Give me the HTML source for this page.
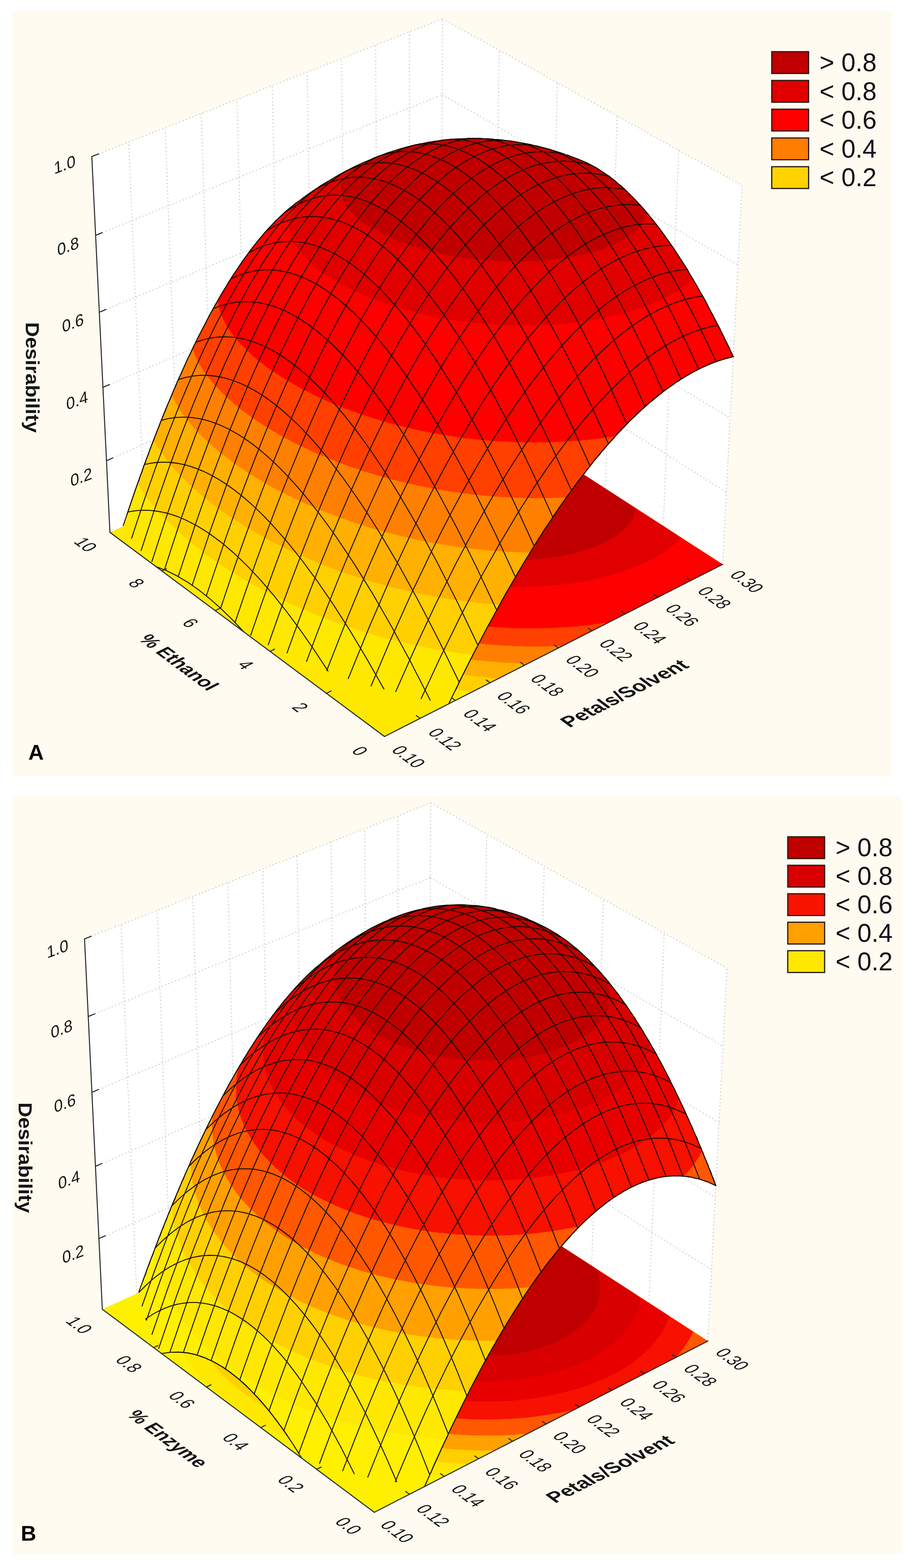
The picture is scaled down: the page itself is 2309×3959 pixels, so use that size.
<!DOCTYPE html>
<html><head><meta charset="utf-8"><title>Desirability surfaces</title><style>html,body{margin:0;padding:0;background:#fff}svg{display:block}</style></head>
<body>
<svg xmlns="http://www.w3.org/2000/svg" width="2309" height="3959" viewBox="0 0 2309 3959" font-family="'Liberation Sans', sans-serif">
<rect x="31" y="28" width="2220" height="1932" fill="#FFFBF0"/>
<polygon fill="#fff" points="277.4,1344.1 231.7,395.3 1117.1,47.3 1872.7,468.4 1823.7,1424.9 1112.3,964.8"/>
<g stroke="#cdcdcd" stroke-width="2.8" stroke-dasharray="2.8 6.3" fill="none">
<line x1="365.1" y1="1304.3" x2="324.9" y2="358.7" />
<line x1="451.7" y1="1264.9" x2="417.0" y2="322.5" />
<line x1="537.5" y1="1226.0" x2="508.1" y2="286.7" />
<line x1="622.3" y1="1187.4" x2="598.1" y2="251.3" />
<line x1="706.2" y1="1149.3" x2="687.1" y2="216.3" />
<line x1="789.1" y1="1111.6" x2="775.1" y2="181.7" />
<line x1="871.2" y1="1074.3" x2="862.0" y2="147.5" />
<line x1="952.4" y1="1037.4" x2="948.0" y2="113.7" />
<line x1="1032.8" y1="1000.9" x2="1033.0" y2="80.3" />
<line x1="1112.3" y1="964.8" x2="1117.1" y2="47.3" />
<line x1="1823.7" y1="1424.9" x2="1872.7" y2="468.4" />
<line x1="1673.6" y1="1327.8" x2="1712.8" y2="379.3" />
<line x1="1527.6" y1="1233.4" x2="1557.5" y2="292.7" />
<line x1="1385.5" y1="1141.5" x2="1406.6" y2="208.6" />
<line x1="1247.1" y1="1052.0" x2="1259.8" y2="126.8" />
<line x1="268.7" y1="1163.2" x2="1113.2" y2="789.3" />
<line x1="1113.2" y1="789.3" x2="1833.0" y2="1242.6" />
<line x1="259.7" y1="978.0" x2="1114.1" y2="610.0" />
<line x1="1114.1" y1="610.0" x2="1842.6" y2="1055.9" />
<line x1="250.6" y1="788.4" x2="1115.1" y2="426.6" />
<line x1="1115.1" y1="426.6" x2="1852.4" y2="864.8" />
<line x1="241.2" y1="594.2" x2="1116.1" y2="239.1" />
<line x1="1116.1" y1="239.1" x2="1862.4" y2="669.0" />
<line x1="231.7" y1="395.3" x2="1117.1" y2="47.3" />
<line x1="1117.1" y1="47.3" x2="1872.7" y2="468.4" />
</g>
<polygon fill="#FFE800" points="970.3,1859.6 277.4,1344.1 1112.3,964.8 1823.7,1424.9"/>
<path fill="#FFD000" d="M351.2,1310.8L358.2,1322.8L373.2,1344.8L387.8,1363.8L403.8,1382.8L418.8,1399.2L446.2,1426.8L479.2,1456.2L523.2,1491.2L550.2,1510.8L582.2,1532.2L633.8,1563.8L686.8,1592.8L745.2,1621.2L804.2,1646.8L864.8,1669.8L928.2,1690.8L999.8,1710.8L1057.8,1724.2L1114.8,1735.2L1148.8,1740.8L1189.2,1746.2L1192.8,1746.2L1823.2,1424.8L1112.8,965.2L1111.2,965.2Z"/>
<path fill="#FFB000" d="M395.2,1290.8L397.8,1296.2L406.2,1310.8L418.8,1329.8L429.8,1344.8L444.8,1363.2L460.2,1380.8L483.8,1404.8L516.2,1434.2L541.2,1454.8L564.2,1472.2L608.2,1502.8L661.2,1535.2L716.8,1565.2L776.8,1593.8L829.2,1615.8L894.8,1639.8L955.2,1658.8L1019.2,1675.8L1054.2,1683.8L1091.2,1691.2L1157.2,1702.2L1223.8,1710.2L1258.2,1712.8L1823.2,1424.8L1112.8,965.2L1111.2,965.2Z"/>
<path fill="#FF8000" d="M443.8,1268.8L444.2,1271.2L457.8,1297.2L470.8,1317.8L482.8,1334.2L495.2,1349.8L510.2,1366.8L529.2,1386.2L545.8,1401.8L562.2,1416.2L583.8,1433.8L626.8,1465.2L653.2,1482.8L682.8,1500.8L727.8,1525.8L782.8,1552.8L831.2,1573.8L893.2,1597.2L951.8,1616.2L1005.8,1631.2L1068.2,1645.8L1136.8,1658.2L1195.2,1666.2L1234.8,1670.2L1267.2,1672.2L1267.8,1672.8L1306.2,1674.2L1306.8,1674.8L1331.8,1675.2L1823.2,1424.8L1112.8,965.2L1111.2,965.2Z"/>
<path fill="#FF4000" d="M498.2,1244.2L501.8,1255.2L510.8,1275.8L519.8,1292.2L528.2,1305.8L539.2,1321.2L550.8,1335.8L565.2,1352.2L581.2,1368.8L610.2,1395.2L631.8,1412.8L653.8,1429.2L697.8,1458.8L736.8,1481.8L788.8,1508.8L830.2,1527.8L878.2,1547.2L933.2,1566.8L987.8,1583.2L1051.2,1599.2L1107.8,1610.8L1164.2,1619.8L1230.8,1627.2L1263.2,1629.2L1263.8,1629.8L1271.2,1629.8L1271.8,1630.2L1291.2,1630.8L1291.8,1631.2L1322.2,1631.8L1322.8,1632.2L1378.8,1632.2L1379.2,1631.8L1419.2,1630.8L1823.2,1424.8L1112.8,965.2L1111.2,965.2Z"/>
<path fill="#FF0000" d="M562.8,1214.8L564.8,1227.8L568.8,1243.2L577.2,1265.2L590.8,1290.2L602.2,1307.2L617.2,1326.2L629.8,1340.2L647.8,1358.2L670.2,1378.2L701.8,1402.8L721.8,1416.8L744.2,1431.2L784.8,1454.8L831.2,1478.2L882.8,1500.8L927.8,1517.8L973.2,1532.8L1022.8,1546.8L1075.8,1559.2L1140.8,1571.2L1183.2,1577.2L1231.2,1582.2L1265.8,1584.2L1266.2,1584.8L1274.8,1584.8L1275.2,1585.2L1299.2,1585.8L1299.8,1586.2L1320.8,1586.2L1321.2,1586.8L1379.8,1586.2L1380.2,1585.8L1393.2,1585.8L1393.8,1585.2L1403.8,1585.2L1404.2,1584.8L1435.2,1583.2L1486.2,1578.2L1535.8,1571.2L1823.2,1424.8L1144.2,985.8L1106.8,985.2L1106.2,984.8L1067.2,985.2Z"/>
<path fill="#E00000" d="M742.8,1198.2L741.8,1206.2L741.8,1220.2L743.2,1231.2L745.2,1239.8L752.8,1259.8L759.8,1272.8L767.2,1284.2L783.8,1304.8L803.2,1324.2L824.8,1342.2L841.8,1354.8L858.2,1365.8L888.8,1383.8L923.2,1401.2L956.2,1415.8L990.2,1428.8L1028.2,1441.2L1067.8,1452.2L1104.2,1460.8L1152.8,1469.8L1192.2,1475.2L1226.8,1478.8L1239.2,1479.2L1239.8,1479.8L1264.8,1480.8L1265.2,1481.2L1277.2,1481.2L1277.8,1481.8L1320.8,1482.2L1321.2,1481.8L1356.2,1481.2L1356.8,1480.8L1365.8,1480.8L1366.2,1480.2L1373.8,1480.2L1374.2,1479.8L1399.2,1478.2L1434.8,1474.2L1483.8,1466.2L1533.8,1454.8L1561.2,1446.8L1594.2,1435.2L1626.2,1421.8L1656.2,1406.2L1682.8,1389.2L1702.8,1373.2L1718.2,1357.2L1706.8,1349.2L1263.8,1062.8L1258.2,1059.8L1229.2,1057.8L1228.8,1057.2L1222.2,1057.2L1221.8,1056.8L1206.2,1056.2L1205.8,1055.8L1172.8,1054.8L1172.2,1054.2L1152.8,1054.2L1152.2,1053.8L1107.8,1053.8L1107.2,1054.2L1088.2,1054.2L1087.8,1054.8L1065.8,1055.2L1065.2,1055.8L1049.2,1056.2L1048.8,1056.8L1014.8,1059.2L971.8,1064.8L933.2,1071.8L901.8,1079.2L871.8,1088.2L838.2,1101.2L810.8,1115.2L790.2,1128.8L779.2,1137.8L766.8,1150.2L759.2,1159.8L753.8,1168.2L748.8,1178.2L745.2,1187.8Z"/>
<path fill="#C00000" d="M868.2,1214.8L868.2,1220.8L867.8,1221.2L868.2,1230.8L871.2,1244.2L874.2,1252.2L879.8,1263.2L888.8,1276.8L900.2,1290.2L920.2,1308.8L936.8,1321.2L965.2,1339.2L995.2,1354.8L1016.8,1364.2L1046.8,1375.8L1081.2,1386.8L1113.8,1395.2L1146.8,1402.2L1173.2,1406.8L1213.2,1411.8L1236.8,1413.2L1237.2,1413.8L1268.2,1414.8L1268.8,1415.2L1309.8,1415.2L1310.2,1414.8L1323.2,1414.8L1323.8,1414.2L1332.8,1414.2L1333.2,1413.8L1353.2,1412.8L1384.8,1409.2L1415.8,1404.2L1437.2,1399.8L1475.8,1389.2L1499.8,1380.8L1520.8,1371.8L1548.2,1356.8L1565.2,1344.8L1571.8,1339.2L1583.2,1327.8L1593.2,1314.2L1599.2,1302.2L1602.2,1292.8L1603.8,1282.8L1359.2,1124.8L1335.2,1119.8L1302.8,1114.2L1244.8,1107.2L1219.8,1105.8L1219.2,1105.2L1211.8,1105.2L1211.2,1104.8L1190.2,1104.2L1189.8,1103.8L1170.8,1103.8L1170.2,1103.2L1142.2,1103.2L1141.8,1103.8L1123.8,1103.8L1123.2,1104.2L1103.8,1104.8L1103.2,1105.2L1096.2,1105.2L1095.8,1105.8L1073.2,1107.2L1038.8,1111.8L1011.8,1116.8L983.2,1123.8L959.8,1131.2L938.8,1139.8L920.2,1149.2L901.8,1161.8L886.8,1175.8L878.8,1186.2L871.8,1200.2Z"/>
<path fill="#FFE800" d="M1259.8,352.2L1247.2,351.8L1233.8,350.2L1210.2,349.8L1209.8,349.2L1178.2,349.2L1177.8,349.8L1164.8,349.8L1164.2,350.2L1154.8,350.2L1140.8,351.8L1134.2,351.8L1125.2,353.2L1107.8,354.8L1060.8,362.8L1057.2,364.2L1049.8,365.2L1033.8,369.8L1027.8,370.8L993.2,380.8L960.2,392.2L915.8,410.8L880.8,427.8L853.8,442.2L807.2,470.2L778.2,489.8L775.8,492.2L764.2,499.8L750.2,510.8L744.8,514.2L725.2,530.8L723.2,531.8L692.8,560.8L667.2,588.2L663.8,593.2L658.8,598.2L647.2,612.2L628.2,636.8L626.8,639.8L615.2,654.8L609.8,663.8L603.8,671.2L601.2,676.2L598.2,679.8L577.2,711.8L561.8,738.8L554.8,749.2L551.8,755.8L542.2,771.2L537.8,780.8L532.2,789.2L508.8,834.2L488.2,875.2L481.2,891.2L474.2,904.2L456.2,945.2L452.2,952.8L450.8,957.8L446.8,965.2L444.2,972.8L435.8,990.8L430.8,1004.8L427.8,1010.2L425.2,1017.8L422.2,1023.2L419.8,1030.8L405.8,1063.8L400.8,1078.2L397.8,1084.2L395.2,1092.2L390.8,1102.2L387.2,1113.2L378.8,1133.2L373.8,1148.8L369.2,1159.2L365.8,1170.8L362.8,1176.8L357.8,1192.8L354.8,1199.2L349.8,1215.2L346.8,1221.8L341.8,1237.8L339.2,1243.2L331.2,1268.8L328.2,1275.2L323.2,1292.2L320.2,1298.8L312.8,1323.8L309.8,1329.8L306.8,1331.2L315.8,1337.2L312.8,1338.8L318.8,1343.2L318.2,1344.2L316.2,1344.8L318.8,1347.2L324.8,1351.2L321.8,1352.8L325.2,1354.8L330.2,1359.2L327.8,1360.2L330.2,1362.8L336.2,1366.8L333.2,1368.2L342.2,1374.8L339.2,1376.2L344.8,1379.8L349.8,1384.2L347.2,1385.2L349.8,1387.8L357.8,1393.2L357.2,1394.2L355.2,1394.8L357.8,1397.2L362.8,1400.2L368.2,1404.8L365.2,1406.2L378.2,1415.8L375.8,1417.2L384.8,1424.2L386.2,1424.8L391.2,1429.2L399.2,1432.8L402.2,1433.2L405.8,1435.2L411.2,1436.8L419.2,1440.8L421.8,1441.2L451.2,1456.2L452.8,1457.8L460.8,1461.8L467.8,1466.8L471.2,1468.2L489.2,1480.2L495.2,1485.2L498.2,1486.8L525.8,1508.2L538.8,1520.2L553.2,1532.2L589.8,1567.8L617.2,1597.2L620.8,1599.2L623.8,1602.2L625.2,1602.8L634.8,1610.2L637.8,1608.8L649.2,1616.8L651.8,1619.2L654.8,1617.8L656.8,1618.8L668.8,1628.2L671.8,1626.8L673.8,1627.8L676.8,1630.8L683.2,1634.8L685.8,1637.2L688.8,1635.8L700.8,1644.2L703.8,1642.8L712.8,1649.8L715.8,1648.2L727.8,1657.2L730.8,1655.8L740.2,1662.8L743.2,1661.2L752.2,1668.2L755.2,1666.8L762.2,1671.2L764.8,1673.8L767.8,1672.2L775.2,1677.8L777.8,1676.2L779.8,1677.2L787.2,1683.2L790.2,1681.8L797.8,1686.8L800.8,1685.2L807.8,1690.8L810.8,1689.2L818.2,1695.2L820.8,1696.2L823.2,1694.8L830.2,1700.2L833.2,1698.8L840.8,1703.8L843.8,1702.2L848.2,1706.2L851.2,1704.8L858.8,1709.8L861.8,1708.2L868.8,1713.8L871.8,1712.2L873.8,1713.2L878.8,1717.8L881.8,1716.2L886.8,1719.8L889.8,1718.2L896.8,1723.2L899.8,1721.8L904.8,1725.8L907.8,1724.2L912.8,1727.8L915.8,1726.2L922.8,1731.2L925.8,1729.8L930.8,1733.8L933.8,1732.2L938.2,1735.8L941.2,1734.2L946.2,1737.8L949.2,1736.2L956.8,1741.8L959.8,1740.2L964.2,1743.8L967.2,1742.2L972.2,1745.8L975.2,1744.2L980.2,1747.8L983.2,1746.2L988.2,1749.8L990.8,1748.2L995.8,1752.2L998.8,1750.8L1003.8,1754.2L1006.8,1752.8L1011.8,1756.2L1014.8,1754.8L1017.2,1756.8L1019.8,1755.2L1024.8,1758.8L1027.8,1757.2L1032.8,1760.8L1035.8,1759.2L1040.8,1762.8L1043.8,1761.2L1046.8,1763.2L1049.2,1761.8L1054.2,1765.2L1056.8,1763.8L1061.8,1767.2L1064.8,1765.8L1067.8,1767.8L1070.2,1766.2L1075.2,1769.8L1078.2,1768.2L1083.2,1771.8L1086.2,1770.2L1089.2,1772.2L1091.8,1770.8L1096.8,1774.2L1099.2,1772.8L1101.8,1774.2L1104.8,1772.8L1109.8,1776.8L1112.8,1775.2L1115.8,1776.8L1118.2,1775.2L1123.2,1779.2L1126.2,1777.8L1129.2,1779.2L1131.2,1778.2L1133.8,1774.8L1152.8,1736.2L1158.2,1723.2L1190.8,1658.2L1226.8,1589.2L1274.8,1501.8L1302.8,1454.2L1304.8,1449.8L1331.8,1404.8L1335.8,1399.2L1343.8,1385.2L1361.8,1356.8L1367.8,1348.2L1370.2,1342.8L1413.2,1278.8L1431.2,1253.2L1440.2,1241.8L1448.8,1228.8L1497.8,1165.2L1512.2,1148.8L1518.2,1140.8L1523.2,1135.8L1532.8,1123.8L1547.8,1107.8L1553.2,1100.8L1591.2,1061.2L1603.2,1050.2L1608.2,1044.8L1640.2,1015.8L1646.8,1011.2L1651.8,1006.2L1659.2,1000.8L1662.8,997.2L1670.8,991.8L1674.2,988.2L1679.2,985.2L1685.8,979.8L1693.8,974.8L1705.8,965.8L1713.8,961.2L1717.2,958.2L1722.2,955.8L1731.8,949.2L1739.2,945.8L1742.2,943.2L1774.2,926.8L1782.2,923.8L1786.8,921.2L1789.2,920.8L1793.8,918.2L1822.8,907.8L1824.8,907.8L1828.2,906.2L1832.2,905.8L1833.8,904.8L1837.8,904.2L1839.2,903.2L1843.2,902.8L1844.8,901.8L1850.8,900.8L1843.2,885.8L1841.2,879.8L1818.8,835.2L1817.8,831.8L1791.2,781.8L1782.8,764.2L1770.2,741.8L1766.8,736.8L1760.2,724.2L1739.2,689.8L1735.8,682.2L1713.2,646.8L1677.2,594.2L1646.2,553.8L1623.8,526.8L1608.8,510.2L1584.2,485.2L1569.2,471.2L1556.2,460.8L1551.8,456.2L1534.8,443.2L1527.8,439.2L1519.2,432.8L1510.2,427.8L1506.8,424.8L1500.2,421.8L1494.2,417.8L1472.8,407.2L1447.8,397.2L1443.8,396.2L1431.8,391.2L1428.2,390.8L1421.2,387.8L1416.8,386.8L1410.8,384.2L1407.2,383.8L1402.8,381.8L1353.8,368.2L1301.8,357.8Z"/>
<path fill="#FFD000" d="M1209.8,349.2L1178.2,349.2L1177.8,349.8L1147.2,350.8L1146.8,351.2L1134.2,351.8L1125.2,353.2L1115.8,353.8L1101.2,356.2L1094.2,356.8L1088.2,358.2L1081.8,358.8L1063.2,362.8L1060.8,362.8L1057.2,364.2L1049.8,365.2L1009.2,375.8L1006.2,377.2L1001.2,378.2L998.2,379.8L993.2,380.8L981.2,385.2L975.2,386.8L971.2,388.8L949.8,396.2L946.2,398.2L941.2,399.8L937.8,401.8L915.8,410.8L880.8,427.8L853.8,442.2L807.2,470.2L778.2,489.8L775.8,492.2L764.2,499.8L750.2,510.8L744.8,514.2L725.2,530.8L723.2,531.8L692.8,560.8L667.2,588.2L663.8,593.2L658.8,598.2L647.2,612.2L628.2,636.8L626.8,639.8L615.2,654.8L609.8,663.8L603.8,671.2L601.2,676.2L598.2,679.8L577.2,711.8L561.8,738.8L554.8,749.2L551.8,755.8L542.2,771.2L537.8,780.8L532.2,789.2L522.2,809.2L519.8,812.8L488.2,875.2L481.2,891.2L474.2,904.2L456.2,945.2L452.2,952.8L450.8,957.8L446.8,965.2L445.2,970.2L441.2,978.2L438.8,985.2L435.8,990.8L430.8,1004.8L427.8,1010.2L425.2,1017.8L422.2,1023.2L419.8,1030.8L405.8,1063.8L400.8,1078.2L397.8,1084.2L395.2,1092.2L390.8,1102.2L387.2,1113.2L378.8,1133.2L375.8,1143.2L369.2,1159.2L365.8,1170.8L362.8,1176.8L357.8,1192.8L354.8,1199.2L349.8,1215.2L347.2,1220.8L354.2,1232.8L367.2,1251.8L385.8,1275.8L411.8,1305.2L440.2,1333.8L472.8,1362.8L494.8,1380.8L520.2,1400.2L572.2,1436.2L625.2,1468.8L677.2,1497.2L737.8,1526.8L799.2,1553.2L864.2,1577.8L923.8,1597.2L985.8,1614.8L1055.8,1631.2L1110.2,1641.8L1168.2,1650.8L1191.2,1653.2L1193.2,1654.2L1226.8,1589.2L1274.8,1501.8L1302.8,1454.2L1304.8,1449.8L1331.8,1404.8L1335.8,1399.2L1343.8,1385.2L1361.8,1356.8L1367.8,1348.2L1370.2,1342.8L1404.2,1291.8L1431.2,1253.2L1440.2,1241.8L1448.8,1228.8L1497.8,1165.2L1512.2,1148.8L1518.2,1140.8L1523.2,1135.8L1532.8,1123.8L1570.8,1082.2L1608.2,1044.8L1640.2,1015.8L1646.8,1011.2L1651.8,1006.2L1659.2,1000.8L1662.8,997.2L1670.8,991.8L1674.2,988.2L1679.2,985.2L1685.8,979.8L1693.8,974.8L1710.2,962.8L1713.8,961.2L1717.2,958.2L1722.2,955.8L1731.8,949.2L1739.2,945.8L1742.2,943.2L1774.2,926.8L1782.2,923.8L1786.8,921.2L1789.2,920.8L1793.8,918.2L1822.8,907.8L1824.8,907.8L1828.2,906.2L1832.2,905.8L1833.8,904.8L1837.8,904.2L1839.2,903.2L1843.2,902.8L1844.8,901.8L1850.8,900.8L1843.2,885.8L1841.2,879.8L1818.8,835.2L1817.8,831.8L1791.2,781.8L1782.8,764.2L1770.2,741.8L1766.8,736.8L1760.2,724.2L1739.2,689.8L1735.8,682.2L1713.2,646.8L1677.2,594.2L1646.2,553.8L1623.8,526.8L1601.2,502.2L1584.2,485.2L1561.8,464.8L1534.8,443.2L1527.8,439.2L1519.2,432.8L1510.2,427.8L1506.8,424.8L1500.2,421.8L1494.2,417.8L1472.8,407.2L1431.8,391.2L1428.2,390.8L1410.8,384.2L1407.2,383.8L1402.8,381.8L1399.2,381.2L1397.8,380.2L1394.2,379.8L1384.2,376.2L1353.8,368.2L1301.8,357.8L1259.8,352.2L1247.2,351.8L1233.8,350.2L1210.2,349.8Z"/>
<path fill="#FFB000" d="M1107.8,354.8L1060.8,362.8L1057.2,364.2L1049.8,365.2L1033.8,369.8L1027.8,370.8L993.2,380.8L981.2,385.2L975.2,386.8L941.2,399.8L937.8,401.8L915.8,410.8L880.8,427.8L853.8,442.2L851.2,444.2L827.2,457.8L791.2,480.8L778.2,489.8L775.8,492.2L760.8,502.2L758.2,504.8L744.8,514.2L725.2,530.8L723.2,531.8L703.8,549.8L681.2,572.8L655.8,601.8L639.2,622.2L615.2,654.8L609.8,663.8L603.8,671.2L601.2,676.2L593.2,687.2L568.8,725.8L561.8,738.8L554.8,749.2L551.8,755.8L542.2,771.2L537.8,780.8L532.2,789.2L488.2,875.2L481.2,891.2L474.2,904.2L472.8,908.8L463.2,928.2L460.8,935.2L452.2,952.8L450.8,957.8L446.8,965.2L444.2,972.8L435.8,990.8L425.2,1017.8L422.2,1023.2L419.8,1030.8L404.8,1066.2L400.8,1078.2L397.8,1084.2L395.2,1092.2L392.2,1098.2L387.8,1110.8L397.8,1128.2L409.8,1146.2L421.2,1161.8L440.8,1185.2L451.2,1196.8L478.2,1223.8L514.8,1255.8L534.2,1271.2L561.2,1291.2L592.8,1312.8L614.8,1326.8L642.2,1343.2L670.8,1359.2L698.2,1373.8L731.8,1390.2L793.8,1417.8L855.8,1441.8L915.2,1461.8L983.2,1481.2L1050.8,1497.2L1122.2,1510.8L1185.2,1519.8L1226.8,1524.2L1255.8,1526.2L1260.8,1527.2L1274.8,1501.8L1284.8,1485.2L1286.8,1480.8L1331.8,1404.8L1335.8,1399.2L1343.8,1385.2L1361.8,1356.8L1367.8,1348.2L1370.2,1342.8L1404.2,1291.8L1431.2,1253.2L1440.2,1241.8L1448.8,1228.8L1465.2,1206.8L1469.8,1201.8L1497.8,1165.2L1512.2,1148.8L1518.2,1140.8L1523.2,1135.8L1532.8,1123.8L1547.8,1107.8L1553.2,1100.8L1593.8,1058.8L1640.2,1015.8L1646.8,1011.2L1651.8,1006.2L1659.2,1000.8L1662.8,997.2L1670.8,991.8L1674.2,988.2L1679.2,985.2L1685.8,979.8L1693.8,974.8L1705.8,965.8L1713.8,961.2L1717.2,958.2L1722.2,955.8L1731.8,949.2L1739.2,945.8L1742.2,943.2L1779.8,924.2L1782.2,923.8L1793.8,918.2L1822.8,907.8L1824.8,907.8L1828.2,906.2L1832.2,905.8L1833.8,904.8L1837.8,904.2L1839.2,903.2L1843.2,902.8L1844.8,901.8L1850.8,900.8L1843.2,885.8L1841.2,879.8L1818.8,835.2L1814.8,825.8L1791.2,781.8L1782.8,764.2L1770.2,741.8L1766.8,736.8L1760.2,724.2L1756.8,719.2L1745.2,698.8L1739.2,689.8L1735.8,682.2L1713.2,646.8L1697.2,622.8L1690.8,614.2L1687.2,608.2L1665.8,578.8L1646.2,553.8L1623.8,526.8L1608.8,510.2L1584.2,485.2L1569.2,471.2L1556.2,460.8L1551.8,456.2L1534.8,443.2L1527.8,439.2L1519.2,432.8L1510.2,427.8L1506.8,424.8L1500.2,421.8L1494.2,417.8L1472.8,407.2L1431.8,391.2L1428.2,390.8L1410.8,384.2L1407.2,383.8L1402.8,381.8L1399.2,381.2L1397.8,380.2L1394.2,379.8L1387.8,377.2L1373.2,373.8L1369.8,372.2L1367.8,372.2L1353.8,368.2L1346.8,367.2L1340.8,365.2L1288.8,355.8L1284.2,355.8L1280.8,354.8L1276.2,354.8L1272.8,353.8L1268.2,353.8L1259.8,352.2L1247.2,351.8L1233.8,350.2L1223.8,350.2L1223.2,349.8L1210.2,349.8L1209.8,349.2L1164.8,349.8L1164.2,350.2L1154.8,350.2L1140.8,351.8L1134.2,351.8L1125.2,353.2Z"/>
<path fill="#FF8000" d="M949.8,396.2L946.2,398.2L941.2,399.8L937.8,401.8L915.8,410.8L880.8,427.8L853.8,442.2L851.2,444.2L832.2,454.8L791.2,480.8L778.2,489.8L775.8,492.2L760.8,502.2L758.2,504.8L744.8,514.2L725.2,530.8L723.2,531.8L692.8,560.8L667.2,588.2L663.8,593.2L655.8,601.8L639.2,622.2L615.2,654.8L577.2,711.8L561.8,738.8L554.8,749.2L551.8,755.8L542.2,771.2L537.8,780.8L532.2,789.2L522.2,809.2L519.8,812.8L488.2,875.2L481.2,891.2L474.2,904.2L472.8,908.8L463.2,928.2L460.8,935.2L452.2,952.8L450.8,957.8L446.8,965.2L444.2,972.8L441.2,978.2L433.2,997.8L441.8,1014.8L451.2,1030.8L464.2,1049.8L478.8,1068.2L499.8,1091.8L517.2,1109.2L535.2,1125.8L557.2,1144.2L585.2,1165.8L604.2,1179.2L633.8,1198.8L658.2,1213.8L686.2,1229.8L722.2,1248.8L777.2,1274.8L839.2,1300.2L902.8,1322.8L944.8,1335.8L978.8,1345.2L1047.2,1361.8L1081.8,1368.8L1124.2,1376.2L1193.2,1385.8L1232.8,1389.8L1264.8,1391.8L1265.2,1392.2L1301.2,1393.8L1301.8,1394.2L1332.8,1394.8L1337.8,1395.8L1343.8,1385.2L1367.8,1348.2L1370.2,1342.8L1404.2,1291.8L1431.2,1253.2L1440.2,1241.8L1448.8,1228.8L1465.2,1206.8L1469.8,1201.8L1497.8,1165.2L1512.2,1148.8L1518.2,1140.8L1523.2,1135.8L1532.8,1123.8L1570.8,1082.2L1608.2,1044.8L1640.2,1015.8L1646.8,1011.2L1651.8,1006.2L1659.2,1000.8L1662.8,997.2L1670.8,991.8L1674.2,988.2L1679.2,985.2L1685.8,979.8L1693.8,974.8L1705.8,965.8L1713.8,961.2L1717.2,958.2L1722.2,955.8L1731.8,949.2L1739.2,945.8L1742.2,943.2L1774.2,926.8L1782.2,923.8L1786.8,921.2L1789.2,920.8L1793.8,918.2L1822.8,907.8L1824.8,907.8L1828.2,906.2L1832.2,905.8L1833.8,904.8L1837.8,904.2L1839.2,903.2L1843.2,902.8L1844.8,901.8L1850.8,900.8L1843.2,885.8L1841.2,879.8L1818.8,835.2L1814.8,825.8L1791.2,781.8L1782.8,764.2L1770.2,741.8L1766.8,736.8L1760.2,724.2L1756.8,719.2L1745.2,698.8L1739.2,689.8L1735.8,682.2L1723.2,662.2L1718.8,656.2L1713.2,646.8L1697.2,622.8L1677.2,594.2L1648.2,556.2L1623.8,526.8L1601.2,502.2L1584.2,485.2L1569.2,471.2L1546.8,452.2L1519.2,432.8L1494.2,417.8L1472.8,407.2L1431.8,391.2L1428.2,390.8L1421.2,387.8L1416.8,386.8L1410.8,384.2L1407.2,383.8L1402.8,381.8L1399.2,381.2L1397.8,380.2L1394.2,379.8L1387.8,377.2L1373.2,373.8L1369.8,372.2L1367.8,372.2L1353.8,368.2L1346.8,367.2L1340.8,365.2L1298.8,357.2L1294.8,357.2L1288.8,355.8L1284.2,355.8L1280.8,354.8L1276.2,354.8L1272.8,353.8L1268.2,353.8L1259.8,352.2L1247.2,351.8L1233.8,350.2L1223.8,350.2L1223.2,349.8L1178.2,349.2L1177.8,349.8L1154.8,350.2L1154.2,350.8L1134.2,351.8L1125.2,353.2L1115.8,353.8L1101.2,356.2L1094.2,356.8L1088.2,358.2L1081.8,358.8L1063.2,362.8L1060.8,362.8L1057.2,364.2L1049.8,365.2L1009.2,375.8L1006.2,377.2L1001.2,378.2L998.2,379.8L993.2,380.8L981.2,385.2L975.2,386.8L971.2,388.8Z"/>
<path fill="#FF4000" d="M485.8,880.8L492.8,899.2L501.2,916.2L510.2,931.2L526.2,953.8L541.8,972.2L556.8,988.2L571.8,1002.8L592.8,1021.2L610.8,1035.8L632.2,1051.8L676.8,1081.2L708.2,1099.8L730.2,1111.8L756.8,1125.2L795.2,1143.2L854.8,1167.8L886.2,1179.2L925.2,1192.2L991.2,1211.2L1054.8,1226.2L1092.8,1233.8L1127.8,1239.8L1185.8,1247.8L1218.8,1251.2L1254.2,1253.8L1254.8,1254.2L1261.8,1254.2L1262.2,1254.8L1300.2,1256.2L1300.8,1256.8L1337.8,1257.2L1338.2,1257.8L1401.2,1257.2L1401.8,1256.8L1415.8,1256.8L1416.2,1256.2L1427.2,1256.2L1428.8,1255.8L1429.2,1256.8L1446.2,1233.2L1448.8,1228.8L1465.2,1206.8L1469.8,1201.8L1497.8,1165.2L1512.2,1148.8L1518.2,1140.8L1523.2,1135.8L1532.8,1123.8L1547.8,1107.8L1553.2,1100.8L1591.2,1061.2L1603.2,1050.2L1608.2,1044.8L1640.2,1015.8L1646.8,1011.2L1651.8,1006.2L1659.2,1000.8L1662.8,997.2L1670.8,991.8L1674.2,988.2L1679.2,985.2L1685.8,979.8L1693.8,974.8L1710.2,962.8L1713.8,961.2L1718.8,957.2L1722.2,955.8L1731.8,949.2L1739.2,945.8L1742.2,943.2L1774.2,926.8L1782.2,923.8L1786.8,921.2L1789.2,920.8L1793.8,918.2L1822.8,907.8L1824.8,907.8L1828.2,906.2L1832.2,905.8L1833.8,904.8L1837.8,904.2L1839.2,903.2L1843.2,902.8L1844.8,901.8L1850.8,900.8L1843.2,885.8L1841.2,879.8L1818.8,835.2L1817.8,831.8L1791.2,781.8L1782.8,764.2L1770.2,741.8L1766.8,736.8L1760.2,724.2L1739.2,689.8L1735.8,682.2L1713.2,646.8L1677.2,594.2L1646.2,553.8L1623.8,526.8L1601.2,502.2L1584.2,485.2L1561.8,464.8L1534.8,443.2L1527.8,439.2L1519.2,432.8L1510.2,427.8L1506.8,424.8L1500.2,421.8L1494.2,417.8L1472.8,407.2L1431.8,391.2L1428.2,390.8L1410.8,384.2L1407.2,383.8L1402.8,381.8L1399.2,381.2L1397.8,380.2L1394.2,379.8L1384.2,376.2L1353.8,368.2L1301.8,357.8L1259.8,352.2L1247.2,351.8L1233.8,350.2L1210.2,349.8L1209.8,349.2L1178.2,349.2L1177.8,349.8L1147.2,350.8L1146.8,351.2L1134.2,351.8L1125.2,353.2L1115.8,353.8L1101.2,356.2L1094.2,356.8L1088.2,358.2L1084.8,358.2L1063.2,362.8L1060.8,362.8L1057.2,364.2L1049.8,365.2L1033.8,369.8L1027.8,370.8L1009.2,375.8L1006.2,377.2L1001.2,378.2L998.2,379.8L993.2,380.8L981.2,385.2L975.2,386.8L971.2,388.8L949.8,396.2L946.2,398.2L941.2,399.8L937.8,401.8L915.8,410.8L865.8,435.8L832.2,454.8L807.2,470.2L760.8,502.2L758.2,504.8L744.8,514.2L725.2,530.8L723.2,531.8L692.8,560.8L667.2,588.2L663.8,593.2L655.8,601.8L628.2,636.8L626.8,639.8L615.2,654.8L609.8,663.8L603.8,671.2L601.2,676.2L598.2,679.8L577.2,711.8L572.8,720.2L568.8,725.8L558.8,743.8L554.8,749.2L551.8,755.8L542.2,771.2L537.8,780.8L532.2,789.2L522.2,809.2L519.8,812.8Z"/>
<path fill="#FF0000" d="M549.2,759.2L551.8,773.8L555.8,787.8L561.8,802.8L568.2,815.8L577.2,830.8L585.2,842.2L596.2,856.2L607.2,868.8L634.2,895.2L651.2,909.8L675.2,928.2L713.8,954.2L756.8,979.2L802.2,1002.2L851.2,1023.8L911.2,1046.2L964.8,1063.2L1020.8,1078.2L1053.2,1085.8L1090.2,1093.2L1147.2,1102.8L1198.8,1109.2L1235.8,1112.2L1236.2,1112.8L1248.8,1113.2L1249.2,1113.8L1282.8,1115.2L1283.2,1115.8L1294.2,1115.8L1294.8,1116.2L1337.2,1116.8L1337.8,1117.2L1387.8,1116.8L1388.2,1116.2L1402.8,1116.2L1403.2,1115.8L1432.8,1114.8L1433.2,1114.2L1466.8,1112.2L1510.2,1107.8L1551.2,1101.8L1552.2,1102.2L1593.8,1058.8L1640.2,1015.8L1646.8,1011.2L1651.8,1006.2L1659.2,1000.8L1662.8,997.2L1670.8,991.8L1674.2,988.2L1679.2,985.2L1685.8,979.8L1693.8,974.8L1705.8,965.8L1713.8,961.2L1717.2,958.2L1722.2,955.8L1731.8,949.2L1739.2,945.8L1742.2,943.2L1779.8,924.2L1782.2,923.8L1793.8,918.2L1822.8,907.8L1824.8,907.8L1828.2,906.2L1832.2,905.8L1833.8,904.8L1837.8,904.2L1839.2,903.2L1843.2,902.8L1844.8,901.8L1850.8,900.8L1843.2,885.8L1841.2,879.8L1818.8,835.2L1817.8,831.8L1791.2,781.8L1782.8,764.2L1770.2,741.8L1766.8,736.8L1760.2,724.2L1739.2,689.8L1735.8,682.2L1723.2,662.2L1687.2,608.2L1655.8,565.8L1623.8,526.8L1601.2,502.2L1584.2,485.2L1569.2,471.2L1556.2,460.8L1551.8,456.2L1534.8,443.2L1527.8,439.2L1519.2,432.8L1510.2,427.8L1506.8,424.8L1500.2,421.8L1494.2,417.8L1472.8,407.2L1431.8,391.2L1428.2,390.8L1421.2,387.8L1416.8,386.8L1410.8,384.2L1407.2,383.8L1402.8,381.8L1399.2,381.2L1397.8,380.2L1394.2,379.8L1387.8,377.2L1373.2,373.8L1369.8,372.2L1367.8,372.2L1353.8,368.2L1346.8,367.2L1340.8,365.2L1298.8,357.2L1294.8,357.2L1288.8,355.8L1268.2,353.8L1264.8,352.8L1247.2,351.8L1241.2,350.8L1234.2,350.8L1233.8,350.2L1210.2,349.8L1209.8,349.2L1164.8,349.8L1164.2,350.2L1154.8,350.2L1140.8,351.8L1134.2,351.8L1125.2,353.2L1115.8,353.8L1101.2,356.2L1094.2,356.8L1088.2,358.2L1084.8,358.2L1063.2,362.8L1060.8,362.8L1057.2,364.2L1049.8,365.2L1009.2,375.8L1006.2,377.2L1001.2,378.2L998.2,379.8L993.2,380.8L981.2,385.2L975.2,386.8L971.2,388.8L949.8,396.2L900.8,417.8L853.8,442.2L807.2,470.2L760.8,502.2L758.2,504.8L744.8,514.2L725.2,530.8L723.2,531.8L692.8,560.8L667.2,588.2L663.8,593.2L655.8,601.8L628.2,636.8L626.8,639.8L615.2,654.8L609.8,663.8L603.8,671.2L601.2,676.2L598.2,679.8L577.2,711.8L575.8,715.2L568.8,725.8L561.8,738.8L554.8,749.2L551.8,755.8Z"/>
<path fill="#E00000" d="M730.8,555.2L729.8,564.2L730.2,577.8L734.2,595.2L737.8,604.2L743.8,616.2L756.2,634.8L766.8,647.2L781.8,662.2L796.2,674.8L818.2,691.2L849.8,711.2L877.2,726.2L916.8,744.8L955.8,760.2L993.8,773.2L1031.2,784.2L1071.2,794.2L1112.2,802.8L1157.2,810.2L1201.2,815.8L1227.2,817.8L1227.8,818.2L1240.2,818.8L1240.8,819.2L1255.8,819.8L1256.2,820.2L1290.8,821.2L1291.2,821.8L1353.2,821.8L1353.8,821.2L1387.8,820.2L1388.2,819.8L1395.8,819.8L1396.2,819.2L1421.2,817.8L1461.8,813.2L1503.8,806.8L1547.8,797.8L1580.8,789.2L1621.8,776.2L1647.8,766.2L1681.2,750.8L1705.8,736.8L1727.2,721.8L1740.2,710.8L1747.8,703.2L1739.2,689.8L1735.8,682.2L1723.2,662.2L1718.8,656.2L1713.2,646.8L1697.2,622.8L1677.2,594.2L1646.2,553.8L1623.8,526.8L1601.2,502.2L1569.2,471.2L1546.8,452.2L1519.2,432.8L1494.2,417.8L1472.8,407.2L1431.8,391.2L1428.2,390.8L1421.2,387.8L1387.8,377.2L1353.8,368.2L1346.8,367.2L1340.8,365.2L1328.2,362.8L1325.8,362.8L1298.8,357.2L1291.8,356.8L1288.8,355.8L1284.2,355.8L1280.8,354.8L1276.2,354.8L1272.8,353.8L1268.2,353.8L1264.8,352.8L1254.8,352.2L1254.2,351.8L1247.2,351.8L1233.8,350.2L1223.8,350.2L1223.2,349.8L1210.2,349.8L1209.8,349.2L1178.2,349.2L1177.8,349.8L1154.8,350.2L1154.2,350.8L1128.8,352.2L1125.2,353.2L1115.8,353.8L1101.2,356.2L1094.2,356.8L1091.2,357.8L1084.8,358.2L1063.2,362.8L1060.8,362.8L1057.2,364.2L1049.8,365.2L1009.2,375.8L1006.2,377.2L1001.2,378.2L998.2,379.8L993.2,380.8L981.2,385.2L975.2,386.8L971.2,388.8L949.8,396.2L946.2,398.2L927.2,405.8L900.8,417.8L880.8,427.8L853.8,442.2L851.2,444.2L832.2,454.8L791.2,480.8L778.2,489.8L775.2,492.8L770.2,495.8L756.2,508.2L748.8,516.8L741.8,526.8L736.2,537.2L732.8,546.8Z"/>
<path fill="#C00000" d="M860.2,476.2L860.2,483.8L861.2,491.2L865.8,505.2L872.8,518.2L884.2,533.2L901.2,549.8L920.8,564.8L943.8,579.2L969.2,592.8L991.2,602.8L1023.2,615.2L1063.8,628.2L1100.2,637.8L1133.2,644.8L1165.2,650.2L1199.2,654.8L1230.2,657.8L1262.8,659.2L1263.2,659.8L1277.2,659.8L1277.8,660.2L1325.8,660.2L1326.2,659.8L1339.8,659.8L1340.2,659.2L1349.8,659.2L1350.2,658.8L1377.2,657.2L1412.8,653.2L1449.2,647.2L1474.8,641.8L1502.8,634.2L1529.8,625.2L1552.8,615.8L1574.2,604.8L1596.8,589.8L1609.2,578.8L1620.8,564.8L1627.8,551.2L1630.2,542.8L1631.2,535.8L1601.2,502.2L1569.2,471.2L1556.2,460.8L1551.8,456.2L1534.8,443.2L1527.8,439.2L1519.2,432.8L1510.2,427.8L1506.8,424.8L1480.2,410.8L1431.8,391.2L1428.2,390.8L1421.2,387.8L1416.8,386.8L1410.8,384.2L1407.2,383.8L1402.8,381.8L1399.2,381.2L1397.8,380.2L1394.2,379.8L1387.8,377.2L1373.2,373.8L1369.8,372.2L1367.8,372.2L1353.8,368.2L1346.8,367.2L1340.8,365.2L1301.8,357.8L1254.2,351.8L1247.2,351.8L1233.8,350.2L1223.8,350.2L1223.2,349.8L1210.2,349.8L1209.8,349.2L1178.2,349.2L1177.8,349.8L1154.8,350.2L1154.2,350.8L1128.8,352.2L1125.2,353.2L1115.8,353.8L1101.2,356.2L1094.2,356.8L1091.2,357.8L1084.8,358.2L1063.2,362.8L1060.8,362.8L1057.2,364.2L1049.8,365.2L1033.8,369.8L1027.8,370.8L993.2,380.8L960.2,392.2L943.8,399.2L941.2,399.8L935.8,402.8L930.8,404.2L911.8,413.2L896.2,422.8L884.2,432.2L876.8,439.8L871.2,446.8L867.8,452.2L863.8,460.8L861.2,469.2Z"/>
<path fill="none" stroke="#140a00" stroke-width="2.3" stroke-linejoin="round" d="M1178.2,349.2L1177.8,349.8L1147.2,350.8L1146.8,351.2L1134.2,351.8L1125.2,353.2L1115.8,353.8L1101.2,356.2L1094.2,356.8L1088.2,358.2L1081.8,358.8L1063.2,362.8L1060.8,362.8L1057.2,364.2L1049.8,365.2L1009.2,375.8L1006.2,377.2L1001.2,378.2L998.2,379.8L993.2,380.8L981.2,385.2L975.2,386.8L971.2,388.8L949.8,396.2L946.2,398.2L941.2,399.8L937.8,401.8L915.8,410.8L880.8,427.8L853.8,442.2L807.2,470.2L778.2,489.8L775.8,492.2L764.2,499.8L750.2,510.8L744.8,514.2L725.2,530.8L723.2,531.8L703.8,549.8L675.8,578.8L667.2,588.2L663.8,593.2L655.8,601.8L628.2,636.8L626.8,639.8L615.2,654.8L609.8,663.8L603.8,671.2L601.2,676.2L598.2,679.8L577.2,711.8L561.8,738.8L554.8,749.2L551.8,755.8L542.2,771.2L537.8,780.8L532.2,789.2L488.2,875.2L481.2,891.2L474.2,904.2L456.2,945.2L452.2,952.8L450.8,957.8L446.8,965.2L444.2,972.8L435.8,990.8L430.8,1004.8L422.2,1023.2L419.8,1030.8L404.8,1066.2L400.8,1078.2L397.8,1084.2L395.2,1092.2L390.8,1102.2L387.2,1113.2L378.8,1133.2L373.8,1148.8L369.2,1159.2L365.8,1170.8L362.8,1176.8L357.8,1192.8L354.8,1199.2L349.8,1215.2L346.8,1221.8L320.2,1299.8M1149.2,1742.8L1156.8,1727.8L1158.2,1723.2L1190.8,1658.2L1226.8,1589.2L1274.8,1501.8L1302.8,1454.2L1304.8,1449.8L1331.8,1404.8L1335.8,1399.2L1343.8,1385.2L1361.8,1356.8L1367.8,1348.2L1370.2,1342.8L1413.2,1278.8L1431.2,1253.2L1440.2,1241.8L1448.8,1228.8L1497.8,1165.2L1512.2,1148.8L1518.2,1140.8L1523.2,1135.8L1532.8,1123.8L1547.8,1107.8L1553.2,1100.8L1591.2,1061.2L1603.2,1050.2L1608.2,1044.8L1640.2,1015.8L1646.8,1011.2L1651.8,1006.2L1659.2,1000.8L1662.8,997.2L1670.8,991.8L1674.2,988.2L1679.2,985.2L1685.8,979.8L1693.8,974.8L1705.8,965.8L1713.8,961.2L1717.2,958.2L1722.2,955.8L1731.8,949.2L1739.2,945.8L1742.2,943.2L1774.2,926.8L1782.2,923.8L1786.8,921.2L1789.2,920.8L1793.8,918.2L1822.8,907.8L1824.8,907.8L1828.2,906.2L1832.2,905.8L1833.8,904.8L1837.8,904.2L1839.2,903.2L1843.2,902.8L1844.8,901.8L1850.8,900.8L1843.2,885.8L1841.2,879.8L1818.8,835.2L1817.8,831.8L1791.2,781.8L1782.8,764.2L1770.2,741.8L1766.8,736.8L1760.2,724.2L1739.2,689.8L1735.8,682.2L1697.2,622.8L1665.8,578.8L1646.2,553.8L1623.8,526.8L1601.2,502.2L1584.2,485.2L1569.2,471.2L1556.2,460.8L1551.8,456.2L1534.8,443.2L1527.8,439.2L1519.2,432.8L1510.2,427.8L1506.8,424.8L1480.2,410.8L1431.8,391.2L1428.2,390.8L1421.2,387.8L1387.8,377.2L1353.8,368.2L1346.8,367.2L1340.8,365.2L1288.8,355.8L1284.2,355.8L1280.8,354.8L1276.2,354.8L1264.8,352.8L1247.2,351.8L1241.2,350.8L1234.2,350.8L1233.8,350.2L1210.2,349.8L1209.8,349.2L1178.8,349.2"/>
<path d="M1132.9,1775.8L1180.7,1678.4L1227.0,1588.7L1275.0,1501.2L1321.4,1421.5L1367.7,1346.9L1414.0,1277.5L1460.1,1213.6L1504.5,1156.9L1528.1,1128.9L1550.2,1104.0L1572.2,1080.4L1594.1,1058.2L1615.9,1037.4L1637.7,1017.9L1659.3,999.8L1680.9,983.2L1703.8,966.9L1725.1,953.2L1746.3,940.8L1767.4,929.9L1788.4,920.4L1809.3,912.3L1830.0,905.7L1850.5,900.5M1062.7,1763.9L1111.8,1658.2L1161.0,1557.9L1210.4,1463.2L1258.3,1376.9L1306.2,1296.1L1354.0,1221.2L1377.9,1186.0L1401.7,1152.3L1425.5,1120.1L1449.2,1089.5L1472.9,1060.4L1496.5,1032.9L1520.0,1007.0L1543.5,982.7L1566.8,960.0L1590.1,938.9L1613.2,919.5L1634.9,902.8L1657.8,886.7L1680.6,872.1L1701.9,860.1L1724.5,848.8L1746.9,839.2L1769.2,831.4L1791.3,825.2L1811.9,821.0M998.6,1746.3L1049.0,1632.7L1099.6,1524.9L1150.3,1423.2L1199.7,1330.5L1225.1,1285.1L1250.5,1241.4L1276.0,1199.5L1299.9,1161.5L1325.2,1122.9L1349.1,1088.2L1374.4,1053.0L1398.2,1021.6L1421.9,991.7L1447.0,961.9L1472.0,933.9L1495.5,909.2L1520.4,884.9L1543.7,863.8L1566.9,844.3L1590.0,826.6L1614.5,809.7L1637.3,795.6L1660.1,783.2L1682.7,772.6L1705.1,763.7L1727.4,756.6L1749.6,751.2L1773.0,747.5M936.4,1732.0L987.9,1610.3L1039.8,1494.9L1091.9,1386.2L1118.7,1332.9L1144.1,1284.3L1169.5,1237.4L1194.9,1192.2L1220.3,1148.8L1245.7,1107.1L1271.1,1067.3L1296.4,1029.3L1321.7,993.1L1347.0,958.8L1372.2,926.5L1397.4,896.0L1422.5,867.5L1447.5,841.0L1472.4,816.4L1497.2,793.8L1521.9,773.3L1545.0,755.7L1569.5,739.1L1593.9,724.5L1618.1,711.9L1640.7,702.0L1663.2,693.9L1686.9,687.3L1710.5,682.7L1733.8,680.2M878.8,1713.3L931.6,1583.8L984.6,1461.2L1011.3,1402.6L1038.0,1345.8L1064.7,1290.9L1090.1,1240.8L1116.9,1189.7L1142.3,1143.2L1169.1,1096.0L1194.5,1053.3L1221.3,1010.1L1246.7,971.3L1273.5,932.3L1298.8,897.5L1325.5,862.7L1350.6,832.0L1375.8,803.2L1400.8,776.5L1427.2,750.5L1452.0,728.0L1476.8,707.7L1501.4,689.4L1527.3,672.3L1551.7,658.4L1575.9,646.5L1600.0,636.8L1623.9,629.3L1647.6,623.9L1671.2,620.6L1694.5,619.4M824.6,1692.8L878.4,1555.8L906.2,1488.3L932.6,1426.2L959.2,1366.0L985.8,1307.7L1012.4,1251.3L1039.2,1196.8L1065.9,1144.4L1092.7,1094.1L1119.5,1045.9L1144.9,1002.3L1171.7,958.2L1198.5,916.4L1223.8,878.9L1250.5,841.4L1277.2,806.2L1303.9,773.3L1330.5,742.8L1355.5,716.1L1380.5,691.5L1406.8,667.9L1433.0,646.6L1457.6,628.8L1483.6,612.3L1508.0,598.9L1533.6,587.2L1557.7,578.4L1581.6,571.8L1606.8,567.2L1630.4,565.1L1655.1,565.3M773.6,1670.1L800.9,1596.9L828.4,1525.8L856.1,1456.6L882.4,1393.0L910.2,1328.0L936.7,1268.4L963.3,1210.7L989.9,1155.1L1018.1,1098.7L1044.8,1047.5L1071.5,998.4L1098.3,951.5L1125.1,906.9L1151.8,864.5L1178.6,824.4L1205.3,786.7L1232.0,751.4L1258.6,718.4L1285.2,687.9L1311.7,659.8L1338.1,634.2L1364.5,611.0L1390.7,590.4L1415.3,573.2L1441.3,557.4L1467.1,544.2L1492.7,533.6L1516.8,525.8L1540.8,520.3L1565.9,517.0L1590.9,516.3L1615.6,518.0M724.4,1648.4L751.5,1573.6L778.8,1500.8L806.3,1430.1L833.9,1361.5L861.6,1295.1L887.9,1234.2L915.8,1172.2L942.3,1115.6L970.4,1058.2L997.0,1006.1L1025.2,953.5L1051.9,906.1L1078.6,860.9L1106.8,815.8L1133.5,775.5L1160.2,737.6L1188.3,700.3L1214.9,667.4L1241.5,637.1L1268.0,609.3L1294.4,584.1L1320.7,561.4L1346.9,541.3L1373.0,523.8L1398.9,508.9L1424.7,496.6L1450.4,486.9L1475.9,479.8L1501.2,475.4L1526.4,473.6L1551.3,474.4L1576.0,477.8M677.0,1627.8L705.3,1547.5L732.4,1473.3L759.7,1401.3L787.1,1331.4L814.6,1263.8L842.3,1198.5L870.1,1135.6L896.5,1078.2L924.4,1020.0L950.9,967.3L979.0,914.0L1005.6,866.0L1033.7,818.0L1060.4,774.9L1088.5,732.1L1115.2,694.1L1141.8,658.7L1169.8,624.1L1197.8,592.3L1224.3,564.9L1252.1,538.8L1278.4,516.8L1304.6,497.4L1330.7,480.7L1356.6,466.7L1382.5,455.4L1408.1,446.8L1435.0,440.6L1460.3,437.6L1485.4,437.2L1510.4,439.5L1536.5,444.9M632.8,1603.7L660.9,1522.1L687.8,1446.8L714.9,1373.6L742.1,1302.8L769.5,1234.2L797.0,1168.0L824.6,1104.2L852.3,1042.9L880.2,984.2L908.0,928.0L936.0,874.5L962.5,826.3L990.6,778.1L1018.6,732.7L1046.7,690.1L1073.3,652.4L1101.3,615.5L1127.9,583.2L1155.8,551.9L1182.2,525.1L1210.0,499.7L1236.3,478.5L1263.9,459.0L1290.0,443.4L1315.9,430.5L1341.7,420.4L1367.3,413.1L1394.2,408.4L1419.5,406.7L1446.0,408.0L1470.9,412.0L1496.9,419.3M593.2,1571.7L621.1,1489.3L647.8,1413.3L676.2,1335.7L703.2,1264.3L730.4,1195.3L757.8,1128.8L785.3,1064.8L812.9,1003.4L840.6,944.6L868.3,888.4L896.2,835.1L922.6,787.0L950.6,739.1L978.6,694.1L1006.6,651.9L1033.1,614.7L1061.1,578.4L1087.5,546.7L1115.4,516.3L1141.8,490.3L1169.6,465.9L1195.8,445.6L1223.3,427.3L1249.4,412.8L1275.2,401.1L1302.4,391.9L1328.0,386.1L1354.9,383.1L1380.1,383.1L1406.6,386.2L1431.5,392.0L1457.5,401.2M556.8,1535.9L583.1,1457.0L608.2,1384.5L634.9,1310.1L660.4,1241.9L686.0,1175.9L711.7,1112.1L737.6,1050.6L763.6,991.5L789.7,934.8L815.8,880.6L842.1,828.9L866.9,782.4L893.3,735.7L919.7,691.6L946.1,650.2L971.1,613.5L997.5,577.4L1023.9,544.0L1050.3,513.4L1075.2,487.1L1100.1,463.4L1126.4,441.0L1151.1,422.5L1177.2,405.7L1203.2,391.8L1227.6,381.3L1253.4,373.1L1277.6,367.9L1301.6,365.4L1327.0,365.5L1352.1,368.6L1377.0,374.5M520.7,1504.5L569.0,1360.5L594.1,1289.6L618.0,1224.6L643.4,1158.0L667.5,1097.3L691.8,1038.6L716.2,982.2L740.6,927.9L765.2,875.9L789.8,826.1L814.6,778.7L839.3,733.6L864.1,690.9L889.0,650.7L912.4,615.1L937.3,579.6L962.2,546.7L985.6,518.0L1010.5,490.0L1035.3,464.6L1060.1,441.8L1084.9,421.6L1108.1,404.9L1132.7,389.8L1155.8,378.0L1178.8,368.6L1203.1,361.1L1225.9,356.5L1250.0,354.1L1274.0,354.4L1297.8,357.4M485.0,1477.7L530.2,1341.4L576.0,1212.5L599.8,1149.2L622.4,1091.5L645.0,1035.7L667.8,981.8L690.7,930.0L713.6,880.2L736.7,832.4L759.8,786.7L783.0,743.2L806.2,701.8L829.5,662.6L852.8,625.6L876.1,590.9L899.4,558.4L922.8,528.2L946.2,500.3L969.5,474.7L992.8,451.5L1016.1,430.6L1037.9,413.2L1061.1,396.9L1082.8,383.8L1105.8,372.1L1128.8,362.8L1150.3,356.3L1173.1,351.7L1195.8,349.4L1218.4,349.6M449.8,1455.6L491.9,1327.3L534.5,1205.7L577.8,1091.2L620.0,987.3L642.7,934.8L664.1,887.5L685.5,842.0L707.0,798.4L728.6,756.6L750.3,716.8L771.9,679.0L793.7,643.1L815.4,609.2L837.2,577.4L859.0,547.6L880.9,519.8L902.7,494.1L924.5,470.5L946.3,449.0L968.1,429.6L989.8,412.3L1011.5,397.2L1033.2,384.2L1053.4,374.0L1074.9,365.1L1096.4,358.4L1117.8,353.8L1139.1,351.4M415.0,1438.5L454.0,1318.4L493.6,1204.3L533.7,1096.5L574.2,995.3L615.1,900.8L654.9,816.3L676.3,773.7L696.4,735.8L716.5,699.6L736.6,665.1L758.3,630.2L778.5,599.4L798.8,570.4L819.1,543.2L839.3,517.9L859.6,494.4L879.9,472.8L900.2,453.0L920.5,435.1L940.7,419.1L961.0,405.0L981.2,392.7L1001.3,382.4L1021.4,374.0L1041.4,367.5L1061.4,362.8M383.3,1417.9L419.4,1306.5L456.0,1200.5L493.0,1100.1L530.4,1005.6L568.2,917.0L604.8,837.5L643.2,761.2L680.3,693.9L698.9,662.5L719.0,630.5L737.7,602.4L756.5,575.9L775.2,551.0L794.0,527.6L812.7,506.0L831.5,485.9L851.7,466.1L870.5,449.5L889.3,434.4L908.0,421.1L926.7,409.4L945.4,399.4L964.0,391.0L982.7,384.4M356.1,1389.9L389.4,1288.0L423.0,1190.8L457.0,1098.5L490.0,1014.8L524.7,932.6L558.3,858.9L593.5,787.5L627.5,724.2L663.1,664.0L697.5,611.8L714.7,587.7L731.9,565.0L749.1,543.8L766.4,523.9L783.7,505.4L800.9,488.3L818.2,472.7L835.5,458.5L852.7,445.7L869.9,434.4L887.2,424.5L904.4,416.1M332.0,1359.4L362.4,1267.2L391.9,1182.9L423.0,1099.0L453.0,1022.9L484.7,947.8L515.2,880.3L546.0,817.1L576.9,758.4L608.0,704.2L639.3,654.7L670.6,609.8L702.1,569.6L717.8,551.3L733.5,534.2L749.3,518.4L765.1,503.7L780.8,490.2L796.6,478.0L810.9,468.0L826.7,458.1M311.0,1326.9L337.4,1248.6L364.0,1173.5L390.9,1101.8L418.0,1033.5L445.3,968.8L472.8,907.6L500.6,850.0L528.5,796.2L556.5,746.2L584.7,700.0L613.0,657.7L640.0,621.2L668.4,586.7L695.5,557.6L724.1,531.0L751.2,509.4M615.1,1595.2L586.0,1564.3L557.2,1536.2L528.6,1511.0L501.4,1489.4L473.3,1469.8L446.5,1453.9L420.1,1440.7L393.9,1430.5M827.7,1694.2L791.5,1639.1L756.7,1589.2L722.1,1542.6L688.9,1501.0L655.9,1462.7L623.1,1428.0L590.7,1396.9L558.5,1369.5L526.6,1346.0L496.1,1327.0L466.0,1311.7L450.6,1305.2L436.3,1300.1L421.0,1295.7L406.9,1292.5L391.8,1290.0L377.9,1288.7L363.1,1288.3L349.4,1288.9L335.8,1290.4L322.3,1292.9M968.9,1739.9L926.0,1664.1L883.4,1592.7L842.1,1527.8L801.0,1467.6L760.2,1412.2L720.9,1363.4L681.8,1319.6L663.0,1300.2L644.3,1282.0L625.7,1265.1L607.1,1249.5L588.7,1235.2L570.4,1222.2L552.1,1210.5L534.0,1200.2L516.0,1191.2L499.3,1184.1L481.5,1177.8L463.9,1172.9L446.4,1169.5L430.1,1167.5L412.9,1166.8L396.9,1167.5L379.9,1169.6L364.2,1173.0M1085.7,1768.0L1036.4,1671.4L988.5,1582.7L941.9,1501.6L895.5,1426.2L850.5,1358.6L827.5,1326.3L805.8,1297.1L784.2,1269.4L762.6,1243.3L741.2,1218.7L719.8,1195.7L698.6,1174.3L677.4,1154.6L656.4,1136.5L636.6,1121.0L615.8,1106.3L596.3,1094.0L575.8,1082.7L556.5,1073.7L536.3,1065.9L517.3,1060.2L498.5,1056.2L479.8,1053.9L461.3,1053.2L442.9,1054.2L424.7,1056.9L406.7,1061.3M1158.7,1722.5L1108.1,1618.3L1057.4,1520.0L1008.2,1430.2L960.3,1348.9L937.0,1311.6L913.8,1275.9L890.6,1241.8L867.5,1209.4L844.5,1178.7L821.6,1149.8L798.8,1122.6L777.2,1098.6L754.6,1075.0L733.2,1054.5L710.8,1034.6L689.7,1017.7L668.7,1002.5L647.8,989.1L627.1,977.5L606.5,967.8L586.1,960.0L565.8,954.0L545.7,950.0L526.8,948.0L507.0,947.7L487.4,949.4L468.0,953.1L449.9,958.4M1205.9,1628.9L1155.2,1522.5L1104.5,1422.3L1055.0,1330.9L1007.0,1248.3L983.6,1210.5L960.3,1174.4L937.1,1139.9L913.9,1107.2L890.7,1076.3L867.7,1047.2L844.8,1020.0L823.1,996.0L800.3,972.5L778.9,952.0L756.3,932.4L735.1,915.6L713.9,900.8L692.9,887.8L672.1,876.7L651.3,867.5L630.7,860.2L610.3,854.9L590.0,851.6L571.1,850.3L551.1,850.9L531.4,853.5L511.8,858.1L493.5,864.4M1253.2,1540.3L1202.4,1432.0L1152.8,1332.6L1103.3,1239.7L1078.6,1195.9L1055.1,1156.0L1031.7,1117.7L1008.3,1081.2L984.9,1046.4L961.6,1013.5L938.4,982.4L915.3,953.1L892.2,925.9L870.4,901.8L847.5,878.4L826.0,858.1L803.3,838.7L781.9,822.3L760.6,807.8L739.5,795.2L718.5,784.5L697.6,775.9L676.9,769.2L656.3,764.6L635.9,762.0L615.7,761.5L595.6,763.0L575.7,766.6L556.0,772.3L537.5,779.6M1300.5,1456.7L1249.7,1346.8L1200.0,1246.1L1175.2,1198.3L1150.4,1152.3L1125.6,1108.1L1102.1,1067.9L1078.6,1029.4L1055.1,992.7L1031.7,957.9L1008.3,924.9L985.0,893.9L961.8,864.8L938.6,837.7L916.8,813.9L893.8,790.9L872.1,771.0L849.3,752.0L827.8,736.1L806.4,722.2L785.2,710.2L764.1,700.3L743.1,692.4L722.2,686.6L701.5,682.9L681.0,681.2L660.6,681.7L640.4,684.3L620.4,689.0L600.5,695.9L582.0,704.3M1347.8,1378.4L1296.9,1267.3L1247.3,1165.6L1222.4,1117.4L1198.8,1073.4L1174.0,1028.9L1150.4,988.4L1126.8,949.8L1103.3,913.0L1079.8,878.1L1056.4,845.2L1033.0,814.2L1009.7,785.3L986.4,758.5L964.5,735.0L941.4,712.3L919.6,692.8L897.9,675.3L876.3,659.8L853.6,645.7L832.3,634.4L811.0,625.2L789.9,618.1L768.9,613.1L748.1,610.3L727.5,609.6L707.0,611.0L686.6,614.7L666.5,620.5L646.5,628.5L626.7,638.8M1394.9,1305.5L1344.1,1193.4L1319.3,1141.4L1294.4,1091.1L1269.5,1042.8L1245.9,998.6L1221.0,954.0L1197.4,913.6L1173.8,875.0L1150.2,838.4L1126.7,803.7L1103.2,771.1L1079.7,740.5L1056.4,712.0L1033.0,685.7L1011.0,662.7L987.8,640.7L966.0,621.8L944.2,605.1L922.5,590.3L899.7,577.1L878.3,566.7L856.9,558.4L835.7,552.4L814.6,548.5L793.7,546.7L772.9,547.2L752.3,549.9L731.9,554.9L711.6,562.0L691.5,571.5L671.6,583.1M1442.0,1238.1L1392.4,1128.1L1367.6,1075.8L1342.7,1025.3L1317.8,976.9L1294.2,932.6L1269.3,888.1L1245.6,847.7L1222.0,809.3L1198.4,772.8L1174.8,738.4L1151.2,706.1L1127.7,676.0L1104.3,647.9L1080.9,622.1L1058.8,599.7L1035.5,578.3L1013.6,560.2L990.5,543.3L968.7,529.5L945.9,517.3L924.3,507.9L902.9,500.8L881.6,495.8L860.4,493.1L839.4,492.6L818.5,494.4L797.8,498.5L777.2,504.8L756.9,513.4L736.7,524.3L716.6,537.5M1488.8,1176.4L1439.3,1066.2L1414.5,1013.8L1390.9,965.9L1367.2,919.9L1343.6,875.6L1319.9,833.3L1296.2,792.9L1272.5,754.6L1248.9,718.3L1225.2,684.1L1202.9,653.7L1179.3,623.7L1157.0,597.3L1133.6,571.7L1111.4,549.6L1088.0,528.5L1066.0,510.7L1044.0,495.0L1022.2,481.5L1000.4,470.2L978.7,461.2L957.2,454.3L935.7,449.8L914.4,447.5L893.3,447.5L872.2,449.8L852.5,454.1L831.8,460.9L811.2,470.0L790.8,481.4L771.8,494.4M1535.4,1120.5L1489.7,1018.4L1443.8,922.9L1421.4,879.0L1399.0,836.8L1376.5,796.4L1354.1,757.7L1331.6,720.9L1309.2,686.0L1286.8,653.0L1265.6,623.6L1243.2,594.5L1222.1,568.8L1201.0,544.9L1179.9,523.0L1157.7,501.7L1136.8,483.7L1115.9,467.6L1095.1,453.4L1074.3,441.2L1053.7,431.1L1033.1,422.9L1012.6,416.8L992.3,412.8L972.0,410.8L951.9,410.9L933.0,412.8L913.1,417.0L893.3,423.2L873.7,431.6L855.4,441.3M1581.7,1070.6L1538.5,974.2L1496.4,886.5L1454.1,804.8L1432.9,766.4L1411.7,729.6L1390.5,694.5L1370.5,663.0L1349.3,631.3L1329.4,603.0L1308.2,574.7L1288.2,549.8L1268.3,526.5L1248.4,504.8L1228.6,484.9L1208.8,466.7L1189.0,450.2L1169.3,435.5L1149.6,422.5L1130.0,411.3L1110.5,402.0L1091.0,394.4L1071.6,388.7L1052.3,384.9L1033.1,382.9L1015.2,382.7L996.2,384.3L977.3,387.8L958.5,393.2L940.9,399.9M1627.7,1026.7L1588.3,938.9L1548.6,856.5L1508.9,779.6L1470.3,710.7L1431.6,647.4L1411.6,617.1L1392.9,590.0L1372.9,562.8L1354.2,538.7L1335.5,516.1L1316.8,495.0L1298.1,475.4L1279.4,457.3L1260.8,440.8L1242.2,425.8L1223.7,412.3L1205.2,400.5L1186.7,390.3L1168.3,381.7L1150.0,374.7L1131.7,369.3L1113.5,365.6L1096.6,363.6L1078.5,363.1L1060.5,364.3L1042.6,367.1L1026.0,371.3M1673.3,988.9L1636.4,907.3L1599.3,830.6L1563.3,761.1L1527.2,696.6L1491.0,637.0L1456.0,584.5L1437.3,558.4L1419.8,535.4L1402.3,513.7L1384.8,493.2L1367.3,474.1L1349.9,456.4L1332.4,440.0L1315.0,424.9L1297.6,411.2L1280.3,398.9L1262.9,388.1L1246.9,379.2L1229.6,371.1L1212.4,364.4L1195.3,359.1L1179.4,355.5L1162.3,353.0L1145.3,352.0L1128.4,352.5L1112.8,354.2M1718.4,957.4L1684.0,882.1L1650.7,813.6L1617.2,749.3L1583.6,689.2L1550.0,633.6L1517.5,584.5L1485.0,539.7L1452.5,499.3L1420.0,463.6L1403.8,447.5L1387.5,432.6L1371.3,418.8L1355.1,406.3L1339.0,395.0L1324.1,385.7L1307.9,376.7L1291.9,369.0L1275.8,362.6L1261.0,357.7L1245.0,353.7L1230.3,351.1L1214.4,349.5L1199.8,349.1M1763.0,932.1L1732.3,865.8L1701.5,803.0L1670.6,743.9L1640.8,690.7L1609.7,639.1L1579.7,593.2L1549.7,551.2L1519.7,513.0L1489.7,478.7L1459.7,448.5L1429.7,422.4L1401.0,401.2L1386.0,391.7L1371.1,383.3L1356.2,375.9L1342.5,370.1L1327.7,364.7L1314.1,360.8L1299.3,357.6L1285.7,355.6M1807.1,913.1L1778.9,853.2L1751.8,798.8L1723.4,745.0L1696.2,696.5L1668.8,651.1L1641.4,608.8L1613.9,569.8L1586.4,534.0L1558.9,501.5L1532.6,473.6L1505.0,447.8L1478.8,426.4L1451.3,407.5L1425.1,392.8L1398.9,381.4L1372.8,373.3M1850.5,900.5L1824.9,846.9L1800.3,798.4L1775.6,752.3L1750.9,708.7L1726.1,667.6L1701.2,629.2L1676.2,593.4L1652.5,561.9L1627.5,531.5L1603.7,505.2L1578.6,480.2L1554.8,459.2L1529.7,440.0L1505.9,424.5L1482.2,411.6L1458.5,401.5" fill="none" stroke="#140a00" stroke-width="2.3" stroke-linejoin="round" stroke-linecap="round"/>
<g stroke="#2a2a2a" stroke-width="2.6" fill="none" stroke-linecap="round">
<line x1="277.4" y1="1344.1" x2="231.7" y2="395.3" />
<line x1="277.4" y1="1344.1" x2="970.3" y2="1859.6" />
<line x1="970.3" y1="1859.6" x2="1823.7" y2="1424.9" />
<line x1="268.7" y1="1163.2" x2="284.7" y2="1156.1" />
<line x1="259.7" y1="978.0" x2="276.0" y2="971.0" />
<line x1="250.6" y1="788.4" x2="267.0" y2="781.5" />
<line x1="241.2" y1="594.2" x2="257.9" y2="587.5" />
<line x1="231.7" y1="395.3" x2="248.5" y2="388.7" />
<line x1="823.7" y1="1750.6" x2="835.4" y2="1744.7" />
<line x1="681.3" y1="1644.6" x2="692.9" y2="1639.0" />
<line x1="542.9" y1="1541.6" x2="554.5" y2="1536.2" />
<line x1="408.3" y1="1441.5" x2="419.8" y2="1436.2" />
<line x1="1060.2" y1="1813.8" x2="1050.5" y2="1806.7" />
<line x1="1149.1" y1="1768.5" x2="1139.3" y2="1761.5" />
<line x1="1236.9" y1="1723.8" x2="1227.1" y2="1716.9" />
<line x1="1323.6" y1="1679.6" x2="1313.9" y2="1672.7" />
<line x1="1409.4" y1="1635.9" x2="1399.6" y2="1629.1" />
<line x1="1494.2" y1="1592.7" x2="1484.4" y2="1586.0" />
<line x1="1578.0" y1="1550.0" x2="1568.1" y2="1543.4" />
<line x1="1660.8" y1="1507.8" x2="1651.0" y2="1501.3" />
<line x1="1742.7" y1="1466.1" x2="1732.8" y2="1459.6" />
</g>
<text transform="matrix(0.9354 -0.3535 0.0523 0.9986 163.8 430.0)" font-size="42" font-weight="normal" text-anchor="middle" fill="#151515">1.0</text>
<text transform="matrix(0.9354 -0.3535 0.0523 0.9986 172.5 636.0)" font-size="42" font-weight="normal" text-anchor="middle" fill="#151515">0.8</text>
<text transform="matrix(0.9354 -0.3535 0.0523 0.9986 184.8 829.6)" font-size="42" font-weight="normal" text-anchor="middle" fill="#151515">0.6</text>
<text transform="matrix(0.9354 -0.3535 0.0523 0.9986 195.4 1025.4)" font-size="42" font-weight="normal" text-anchor="middle" fill="#151515">0.4</text>
<text transform="matrix(0.9354 -0.3535 0.0523 0.9986 205.8 1219.0)" font-size="42" font-weight="normal" text-anchor="middle" fill="#151515">0.2</text>
<text transform="matrix(0.7225 0.5366 -0.9631 0.4886 201.5 1382.2)" font-size="44" font-weight="normal" text-anchor="middle" fill="#151515">10</text>
<text transform="matrix(0.7225 0.5366 -0.9631 0.4886 329.8 1479.9)" font-size="44" font-weight="normal" text-anchor="middle" fill="#151515">8</text>
<text transform="matrix(0.7225 0.5366 -0.9631 0.4886 465.9 1580.2)" font-size="44" font-weight="normal" text-anchor="middle" fill="#151515">6</text>
<text transform="matrix(0.7225 0.5366 -0.9631 0.4886 605.3 1685.7)" font-size="44" font-weight="normal" text-anchor="middle" fill="#151515">4</text>
<text transform="matrix(0.7225 0.5366 -0.9631 0.4886 743.0 1793.4)" font-size="44" font-weight="normal" text-anchor="middle" fill="#151515">2</text>
<text transform="matrix(0.7225 0.5366 -0.9631 0.4886 893.6 1903.6)" font-size="44" font-weight="normal" text-anchor="middle" fill="#151515">0</text>
<text transform="matrix(0.7225 0.5366 -0.9631 0.4886 1016.4 1917.9)" font-size="44" font-weight="normal" text-anchor="middle" fill="#151515">0.10</text>
<text transform="matrix(0.7225 0.5366 -0.9631 0.4886 1108.3 1873.7)" font-size="44" font-weight="normal" text-anchor="middle" fill="#151515">0.12</text>
<text transform="matrix(0.7225 0.5366 -0.9631 0.4886 1196.7 1826.1)" font-size="44" font-weight="normal" text-anchor="middle" fill="#151515">0.14</text>
<text transform="matrix(0.7225 0.5366 -0.9631 0.4886 1281.7 1781.8)" font-size="44" font-weight="normal" text-anchor="middle" fill="#151515">0.16</text>
<text transform="matrix(0.7225 0.5366 -0.9631 0.4886 1366.8 1737.6)" font-size="44" font-weight="normal" text-anchor="middle" fill="#151515">0.18</text>
<text transform="matrix(0.7225 0.5366 -0.9631 0.4886 1455.2 1690.0)" font-size="44" font-weight="normal" text-anchor="middle" fill="#151515">0.20</text>
<text transform="matrix(0.7225 0.5366 -0.9631 0.4886 1540.2 1649.2)" font-size="44" font-weight="normal" text-anchor="middle" fill="#151515">0.22</text>
<text transform="matrix(0.7225 0.5366 -0.9631 0.4886 1625.3 1605.0)" font-size="44" font-weight="normal" text-anchor="middle" fill="#151515">0.24</text>
<text transform="matrix(0.7225 0.5366 -0.9631 0.4886 1706.9 1560.8)" font-size="44" font-weight="normal" text-anchor="middle" fill="#151515">0.26</text>
<text transform="matrix(0.7225 0.5366 -0.9631 0.4886 1788.5 1516.5)" font-size="44" font-weight="normal" text-anchor="middle" fill="#151515">0.28</text>
<text transform="matrix(0.7225 0.5366 -0.9631 0.4886 1870.2 1475.7)" font-size="44" font-weight="normal" text-anchor="middle" fill="#151515">0.30</text>
<text transform="matrix(0.0000 1.0350 -0.9500 -0.0000 64.5 953.0)" font-size="50" font-weight="bold" text-anchor="middle" fill="#151515">Desirability</text>
<text transform="matrix(0.7627 0.5664 -0.9364 0.4751 435.9 1680.2)" font-size="48" font-weight="bold" text-anchor="middle" fill="#151515">% Ethanol</text>
<text transform="matrix(0.8918 -0.4524 0.8028 0.5962 1589.4 1760.7)" font-size="50" font-weight="bold" text-anchor="middle" fill="#151515">Petals/Solvent</text>
<rect x="1947.5" y="130.5" width="93.0" height="55.0" fill="#C00000" stroke="#2a1a10" stroke-width="3"/>
<text x="2068.0" y="180.0" font-size="64" fill="#101018">&gt; 0.8</text>
<rect x="1947.5" y="203.1" width="93.0" height="55.0" fill="#E00000" stroke="#2a1a10" stroke-width="3"/>
<text x="2068.0" y="252.6" font-size="64" fill="#101018">&lt; 0.8</text>
<rect x="1947.5" y="275.7" width="93.0" height="55.0" fill="#FF0000" stroke="#2a1a10" stroke-width="3"/>
<text x="2068.0" y="325.2" font-size="64" fill="#101018">&lt; 0.6</text>
<rect x="1947.5" y="348.3" width="93.0" height="55.0" fill="#FF7D00" stroke="#2a1a10" stroke-width="3"/>
<text x="2068.0" y="397.8" font-size="64" fill="#101018">&lt; 0.4</text>
<rect x="1947.5" y="420.9" width="93.0" height="55.0" fill="#FFD200" stroke="#2a1a10" stroke-width="3"/>
<text x="2068.0" y="470.4" font-size="64" fill="#101018">&lt; 0.2</text>
<text x="71.5" y="1917.5" font-size="54" font-weight="bold" fill="#000">A</text>
<rect x="31" y="2010" width="2246" height="1914" fill="#FFFBF0"/>
<polygon fill="#fff" points="258.2,3305.7 213.3,2370.6 1087.0,2027.2 1834.6,2444.0 1786.4,3385.9 1082.3,2929.6"/>
<g stroke="#cdcdcd" stroke-width="2.8" stroke-dasharray="2.8 6.3" fill="none">
<line x1="344.9" y1="3266.1" x2="305.5" y2="2334.4" />
<line x1="430.6" y1="3227.0" x2="396.5" y2="2298.6" />
<line x1="515.3" y1="3188.4" x2="486.5" y2="2263.2" />
<line x1="599.0" y1="3150.1" x2="575.3" y2="2228.3" />
<line x1="681.9" y1="3112.4" x2="663.2" y2="2193.8" />
<line x1="763.7" y1="3075.0" x2="749.9" y2="2159.7" />
<line x1="844.7" y1="3038.0" x2="835.7" y2="2126.0" />
<line x1="924.8" y1="3001.5" x2="920.4" y2="2092.6" />
<line x1="1004.0" y1="2965.4" x2="1004.2" y2="2059.7" />
<line x1="1082.3" y1="2929.6" x2="1087.0" y2="2027.2" />
<line x1="1786.4" y1="3385.9" x2="1834.6" y2="2444.0" />
<line x1="1637.8" y1="3289.6" x2="1676.3" y2="2355.7" />
<line x1="1493.2" y1="3195.9" x2="1522.6" y2="2270.0" />
<line x1="1352.6" y1="3104.7" x2="1373.2" y2="2186.7" />
<line x1="1215.6" y1="3016.0" x2="1228.1" y2="2105.8" />
<line x1="249.6" y1="3127.3" x2="1083.2" y2="2757.0" />
<line x1="1083.2" y1="2757.0" x2="1795.6" y2="3206.3" />
<line x1="240.9" y1="2944.7" x2="1084.1" y2="2580.6" />
<line x1="1084.1" y1="2580.6" x2="1805.0" y2="3022.5" />
<line x1="231.9" y1="2757.9" x2="1085.1" y2="2400.2" />
<line x1="1085.1" y1="2400.2" x2="1814.7" y2="2834.3" />
<line x1="222.7" y1="2566.5" x2="1086.0" y2="2215.8" />
<line x1="1086.0" y1="2215.8" x2="1824.5" y2="2641.5" />
<line x1="213.3" y1="2370.6" x2="1087.0" y2="2027.2" />
<line x1="1087.0" y1="2027.2" x2="1834.6" y2="2444.0" />
</g>
<polygon fill="#FFF000" points="944.5,3818.4 258.2,3305.7 1082.3,2929.6 1786.4,3385.9"/>
<path fill="#FFE800" d="M393.2,3244.2L394.8,3258.2L399.2,3281.8L407.2,3311.2L415.8,3335.2L424.2,3355.2L436.8,3380.2L449.2,3401.8L462.8,3422.2L476.8,3441.2L492.2,3460.2L512.8,3482.8L526.8,3496.8L545.8,3514.2L565.2,3530.8L591.2,3550.8L606.8,3561.8L630.2,3577.2L656.8,3593.2L687.8,3610.2L711.8,3622.2L761.2,3644.2L815.8,3664.8L844.8,3674.2L878.8,3684.2L941.2,3699.8L980.8,3707.8L1015.8,3713.8L1046.8,3718.2L1084.8,3722.8L1116.8,3725.2L1117.2,3725.8L1123.2,3725.8L1123.8,3726.2L1785.8,3386.2L1785.2,3385.2L1082.2,2929.8Z"/>
<path fill="#FFD000" d="M439.8,3223.2L440.8,3239.2L444.8,3264.8L449.8,3286.2L454.2,3301.8L462.2,3324.2L471.2,3345.2L480.8,3364.2L493.8,3386.8L505.2,3404.2L518.8,3422.8L531.2,3438.2L546.8,3455.8L563.2,3472.8L584.8,3492.8L601.2,3506.8L627.8,3527.2L669.2,3555.2L696.2,3571.2L721.2,3584.8L750.8,3599.2L775.2,3610.2L827.2,3630.8L864.2,3643.2L890.8,3651.2L946.8,3665.8L1008.2,3678.2L1045.8,3684.2L1076.2,3688.2L1133.2,3693.8L1182.2,3696.2L1785.8,3386.2L1785.2,3385.2L1082.2,2929.8Z"/>
<path fill="#FFA000" d="M490.2,3200.2L490.8,3221.2L492.8,3240.2L497.2,3265.2L501.2,3281.2L508.2,3303.2L514.2,3318.8L523.8,3339.8L530.2,3352.2L542.2,3372.8L554.2,3390.8L567.8,3408.8L579.8,3423.2L593.2,3438.2L613.8,3458.8L629.2,3472.8L649.8,3489.8L680.2,3512.2L703.8,3527.8L729.8,3543.2L751.8,3555.2L776.8,3567.8L804.2,3580.2L832.2,3591.8L885.8,3610.8L939.2,3626.2L988.2,3637.8L1016.2,3643.2L1055.8,3649.8L1103.2,3655.8L1129.2,3657.8L1129.8,3658.2L1142.2,3658.8L1142.8,3659.2L1149.2,3659.2L1149.8,3659.8L1176.8,3660.8L1177.2,3661.2L1189.2,3661.2L1189.8,3661.8L1208.2,3661.8L1208.8,3662.2L1248.2,3662.2L1785.8,3386.2L1785.2,3385.2L1082.2,2929.8Z"/>
<path fill="#FF5800" d="M546.8,3174.2L546.2,3187.2L545.8,3187.8L545.8,3209.2L546.2,3209.8L546.8,3223.8L549.8,3245.8L552.2,3258.2L558.8,3282.2L566.2,3303.2L572.2,3317.2L582.2,3337.2L592.8,3355.2L601.2,3368.2L614.8,3386.8L628.2,3403.2L644.2,3420.8L673.8,3448.8L696.2,3467.2L710.2,3477.8L749.2,3503.8L785.2,3524.2L813.2,3538.2L835.2,3548.2L881.8,3566.8L930.2,3582.8L982.8,3596.8L1009.8,3602.8L1041.2,3608.8L1083.2,3615.2L1117.2,3619.2L1144.8,3621.2L1145.2,3621.8L1151.8,3621.8L1152.2,3622.2L1177.2,3623.2L1177.8,3623.8L1189.2,3623.8L1189.8,3624.2L1254.8,3624.8L1255.2,3624.2L1271.8,3624.2L1272.2,3623.8L1301.8,3622.8L1302.2,3622.2L1309.2,3622.2L1309.8,3621.8L1330.2,3620.2L1785.8,3386.2L1785.2,3385.2L1082.2,2929.8Z"/>
<path fill="#F81000" d="M612.2,3145.2L609.2,3161.2L607.2,3177.8L606.8,3209.2L607.2,3209.8L607.8,3222.2L611.2,3245.2L614.8,3260.2L621.2,3281.2L629.2,3301.2L637.2,3317.8L647.8,3336.2L659.2,3353.8L680.8,3381.2L705.8,3407.8L735.8,3434.2L768.8,3458.8L803.8,3480.8L828.2,3494.2L847.2,3503.8L870.2,3514.2L898.2,3525.8L943.8,3541.8L985.2,3553.8L1016.2,3561.2L1042.8,3566.8L1098.2,3575.8L1144.8,3580.8L1172.8,3582.2L1173.2,3582.8L1182.8,3582.8L1183.2,3583.2L1195.2,3583.2L1195.8,3583.8L1239.8,3584.2L1240.2,3583.8L1262.2,3583.8L1262.8,3583.2L1293.2,3582.2L1293.8,3581.8L1307.2,3581.2L1343.2,3577.8L1392.2,3570.8L1426.2,3564.2L1448.2,3559.2L1703.8,3428.2L1715.2,3415.8L1728.8,3398.2L1740.2,3380.2L1749.2,3362.2L1082.2,2929.8L613.2,3143.8Z"/>
<path fill="#E80000" d="M679.8,3151.8L677.2,3164.8L675.2,3181.8L675.2,3191.2L674.8,3191.8L675.2,3212.2L676.8,3226.2L679.8,3242.8L683.8,3258.2L688.8,3273.2L696.2,3291.2L702.8,3304.2L710.8,3318.2L720.2,3332.8L730.2,3346.2L742.2,3360.8L762.8,3382.2L779.2,3397.2L795.8,3410.8L811.2,3422.2L829.8,3434.8L861.8,3453.8L898.8,3472.2L938.2,3488.8L983.8,3504.2L1030.2,3516.8L1073.8,3525.8L1124.8,3533.2L1155.2,3536.2L1176.2,3537.2L1176.8,3537.8L1199.2,3538.2L1199.8,3538.8L1253.8,3538.8L1254.2,3538.2L1276.2,3537.8L1276.8,3537.2L1291.8,3536.8L1327.8,3533.2L1369.2,3527.2L1415.8,3517.8L1461.2,3505.2L1495.8,3493.2L1532.2,3477.8L1552.2,3467.8L1574.2,3455.2L1592.8,3443.2L1607.8,3432.2L1626.2,3416.8L1644.8,3398.2L1660.2,3379.2L1668.8,3366.8L1677.2,3351.8L1683.2,3338.8L1688.8,3323.2L1681.2,3317.8L1082.2,2929.8L695.8,3106.2L687.2,3126.2L683.2,3138.2Z"/>
<path fill="#D80000" d="M760.2,3151.2L756.2,3168.8L754.8,3179.8L754.2,3210.2L757.2,3232.2L764.2,3257.8L770.2,3272.8L776.8,3286.2L783.2,3297.8L792.8,3312.2L808.8,3332.8L831.2,3356.2L857.8,3378.8L886.2,3398.8L914.2,3415.2L949.8,3432.8L985.8,3447.2L1022.2,3459.2L1060.2,3469.2L1109.8,3478.8L1148.8,3483.8L1172.2,3485.2L1172.8,3485.8L1180.2,3485.8L1180.8,3486.2L1189.8,3486.2L1190.2,3486.8L1240.2,3487.2L1240.8,3486.8L1254.8,3486.8L1255.2,3486.2L1264.8,3486.2L1265.2,3485.8L1285.2,3484.8L1324.2,3480.2L1370.8,3471.8L1407.8,3462.2L1443.8,3450.2L1474.8,3437.2L1494.8,3427.2L1512.2,3417.2L1537.2,3400.2L1550.2,3389.8L1562.2,3378.8L1572.2,3368.2L1581.8,3356.8L1591.8,3342.2L1597.2,3332.8L1606.8,3311.2L1610.2,3299.8L1613.2,3285.2L1614.2,3274.8L1137.2,2965.2L1133.8,2964.8L1090.2,2964.8L1089.8,2965.2L1078.8,2965.2L1078.2,2965.8L1057.2,2966.8L1016.8,2971.8L983.2,2978.2L967.2,2982.2L849.8,3035.8L842.2,3039.8L820.2,3057.8L805.2,3072.8L792.2,3088.2L783.8,3100.2L772.8,3119.2L765.2,3136.2Z"/>
<path fill="#C00000" d="M855.2,3169.2L852.2,3186.2L851.8,3208.2L854.2,3226.8L860.2,3247.8L869.8,3268.8L881.2,3287.2L896.8,3306.8L915.2,3325.2L930.8,3338.2L957.2,3356.8L980.8,3370.2L1013.8,3385.8L1035.8,3394.2L1070.8,3405.2L1104.2,3413.2L1132.8,3418.2L1166.2,3422.2L1187.8,3423.2L1188.2,3423.8L1200.8,3423.8L1201.2,3424.2L1230.8,3424.2L1231.2,3423.8L1243.8,3423.8L1244.2,3423.2L1265.2,3422.2L1291.2,3419.2L1327.2,3412.8L1358.2,3404.8L1384.8,3395.8L1407.2,3386.2L1430.2,3374.2L1451.8,3360.2L1467.2,3347.8L1481.8,3333.2L1487.2,3326.8L1499.8,3308.2L1508.2,3289.8L1511.2,3280.2L1513.8,3267.8L1514.8,3258.2L1514.8,3245.2L1513.8,3235.2L1509.8,3217.2L1505.8,3205.8L1503.8,3202.8L1241.8,3033.2L1211.2,3027.8L1178.2,3023.8L1157.8,3022.8L1157.2,3022.2L1145.8,3022.2L1145.2,3021.8L1114.8,3021.8L1114.2,3022.2L1088.8,3023.2L1055.8,3027.2L1027.8,3032.8L1000.2,3040.2L977.8,3048.2L963.8,3054.2L936.2,3068.8L913.8,3084.2L899.8,3096.2L884.8,3112.2L872.8,3128.8L867.8,3137.2L861.8,3149.8Z"/>
<path fill="#FFF000" d="M1204.8,2286.8L1179.2,2285.2L1178.8,2284.8L1160.8,2284.8L1160.2,2284.2L1137.8,2284.8L1137.2,2285.2L1129.8,2285.2L1129.2,2285.8L1122.2,2285.8L1107.2,2287.2L1090.8,2290.2L1083.8,2290.8L1068.8,2293.8L1062.8,2295.8L1055.8,2296.8L1052.2,2298.2L1046.2,2299.2L1044.8,2300.2L1040.8,2300.8L1029.2,2304.8L1025.8,2305.2L1024.2,2306.2L1002.8,2313.2L967.2,2328.2L935.2,2344.2L906.8,2360.8L877.2,2379.8L854.2,2396.2L821.8,2421.8L798.8,2442.2L792.2,2447.2L761.8,2476.8L737.8,2502.8L736.2,2505.2L720.2,2523.2L700.8,2548.2L695.8,2553.8L694.2,2556.8L690.2,2561.2L683.2,2571.8L677.2,2578.8L649.8,2619.8L646.8,2623.2L644.2,2628.2L640.2,2633.2L638.8,2636.8L626.2,2655.2L624.8,2658.8L615.2,2673.2L608.2,2686.2L604.2,2691.8L601.8,2697.2L598.8,2701.2L590.2,2717.2L579.2,2735.2L536.8,2816.2L498.8,2894.8L496.2,2901.8L481.2,2932.8L477.2,2943.8L467.8,2963.2L462.8,2976.8L459.8,2982.2L449.2,3008.2L446.2,3013.8L441.2,3027.8L432.8,3046.2L427.8,3060.2L423.8,3068.2L419.8,3080.2L415.8,3088.2L411.8,3100.2L408.8,3105.8L403.8,3120.8L400.8,3126.2L395.8,3141.2L392.8,3147.2L385.2,3168.8L380.8,3178.8L377.2,3190.2L372.8,3200.2L366.8,3218.8L362.2,3228.8L351.2,3260.8L348.2,3265.2L349.8,3266.8L347.2,3267.8L348.8,3269.8L346.8,3270.8L350.8,3273.8L347.8,3275.2L352.2,3278.2L349.2,3279.8L351.8,3281.2L348.8,3282.8L352.8,3285.8L350.2,3287.2L354.2,3290.2L351.2,3291.8L355.8,3294.8L352.8,3296.2L354.8,3297.8L352.2,3299.2L356.2,3302.2L353.8,3303.8L357.8,3306.8L354.8,3308.2L359.2,3311.2L356.2,3312.8L360.8,3315.8L357.8,3317.2L362.2,3320.2L359.2,3321.8L363.8,3324.8L360.8,3326.2L364.8,3329.2L362.2,3330.8L366.2,3333.8L363.2,3335.2L367.8,3338.2L364.8,3339.8L368.2,3341.8L370.8,3344.2L370.2,3345.2L368.2,3345.8L372.2,3349.2L369.8,3350.2L374.2,3353.8L371.2,3355.2L375.8,3358.2L372.8,3359.8L379.2,3364.2L376.2,3365.8L380.2,3368.8L379.8,3369.8L377.8,3370.2L384.2,3375.2L381.2,3376.8L385.8,3379.8L382.8,3381.2L386.2,3383.2L388.8,3385.8L388.2,3386.8L386.8,3387.2L389.2,3389.8L393.2,3392.2L390.2,3393.8L396.2,3398.2L395.8,3399.2L393.8,3399.8L400.2,3404.8L397.2,3406.2L404.2,3411.2L401.2,3412.8L407.8,3417.2L412.8,3417.2L417.8,3415.8L430.8,3414.2L438.8,3414.2L439.2,3413.8L460.2,3414.2L468.8,3415.2L471.8,3416.2L475.8,3416.2L497.2,3421.2L500.2,3422.8L502.2,3422.8L505.2,3424.2L508.2,3424.8L511.8,3426.8L514.8,3427.2L536.2,3436.8L549.8,3444.2L554.8,3447.8L559.2,3449.8L579.8,3463.8L587.2,3470.2L590.8,3472.2L594.2,3475.8L595.8,3476.2L620.8,3498.2L636.8,3514.2L664.8,3544.8L667.8,3549.2L685.8,3570.2L693.8,3581.8L699.8,3588.8L704.2,3595.8L710.8,3603.8L712.8,3607.8L722.8,3620.8L724.8,3624.8L733.2,3636.8L734.2,3639.2L744.2,3653.2L746.2,3657.8L749.8,3662.2L760.8,3680.8L769.2,3687.8L771.2,3688.8L773.8,3687.2L778.8,3690.8L781.8,3689.2L788.8,3694.8L791.8,3693.2L798.8,3698.8L801.8,3697.2L806.2,3700.8L809.2,3699.2L814.2,3702.8L817.2,3701.2L824.2,3706.8L827.2,3705.2L832.2,3708.8L835.2,3707.2L839.8,3710.8L842.8,3709.2L847.8,3712.8L850.8,3711.2L855.2,3714.8L858.2,3713.2L865.8,3718.8L868.2,3717.2L873.2,3720.8L876.2,3719.2L879.2,3721.2L881.8,3719.8L886.2,3723.2L889.2,3721.8L894.2,3725.2L897.2,3723.8L901.8,3727.2L904.8,3725.8L909.8,3729.2L912.8,3727.8L917.8,3731.8L920.8,3730.2L923.2,3731.8L925.8,3730.2L930.8,3733.8L933.8,3732.2L938.8,3736.2L941.8,3734.8L944.2,3736.2L946.8,3734.8L951.8,3738.2L954.8,3736.8L957.8,3738.8L960.2,3737.2L964.8,3740.8L967.8,3739.2L970.8,3741.2L973.2,3739.8L978.2,3743.2L981.2,3741.8L983.8,3743.8L986.2,3742.2L991.2,3745.8L994.2,3744.2L997.2,3745.8L999.8,3744.2L1004.8,3748.2L1007.8,3746.8L1010.2,3748.2L1012.8,3746.8L1015.8,3748.8L1018.2,3747.2L1023.2,3750.8L1026.2,3749.2L1028.8,3751.2L1031.8,3749.8L1034.2,3751.2L1036.8,3749.8L1039.8,3751.8L1042.2,3750.2L1047.2,3753.8L1050.2,3752.2L1052.8,3754.2L1055.8,3752.8L1058.2,3754.2L1060.8,3752.8L1063.2,3754.8L1066.2,3753.2L1069.2,3754.8L1071.8,3753.2L1086.8,3718.8L1089.8,3713.2L1095.2,3698.8L1122.2,3640.2L1128.2,3628.8L1130.8,3621.2L1186.8,3507.2L1205.8,3472.2L1210.8,3461.8L1222.8,3439.8L1226.8,3433.8L1234.2,3418.2L1238.2,3412.2L1252.2,3386.8L1275.8,3348.2L1278.8,3341.8L1296.8,3312.8L1315.8,3284.2L1317.2,3280.8L1339.2,3248.2L1348.2,3236.2L1353.8,3227.2L1384.8,3185.8L1420.2,3142.2L1439.2,3121.8L1440.8,3119.2L1468.8,3090.2L1491.8,3068.8L1511.2,3051.8L1515.2,3049.2L1534.2,3033.8L1550.8,3022.2L1553.2,3021.2L1559.2,3016.8L1567.8,3012.2L1574.2,3007.8L1601.2,2993.8L1611.2,2989.2L1616.2,2987.8L1620.8,2985.2L1632.2,2981.2L1635.8,2980.8L1640.2,2978.8L1644.2,2978.2L1645.8,2977.2L1647.8,2977.2L1651.2,2975.8L1655.8,2975.2L1661.8,2973.2L1672.8,2971.2L1677.8,2971.2L1681.2,2970.2L1686.2,2970.2L1691.8,2969.2L1721.2,2969.2L1721.8,2969.8L1731.8,2970.2L1737.8,2971.8L1742.8,2971.8L1749.8,2973.2L1751.2,2974.2L1765.8,2977.2L1767.2,2978.2L1770.8,2978.8L1777.8,2981.8L1785.2,2983.8L1806.8,2993.8L1804.2,2988.2L1800.8,2977.2L1797.2,2969.8L1795.2,2962.8L1788.8,2948.2L1785.8,2939.2L1779.2,2924.8L1773.8,2909.8L1771.2,2905.2L1769.2,2898.2L1764.2,2888.2L1759.8,2875.8L1749.8,2854.8L1747.8,2848.2L1740.2,2832.8L1738.2,2826.8L1733.2,2817.2L1723.8,2795.2L1716.2,2780.8L1715.2,2777.2L1704.2,2755.8L1703.2,2752.2L1673.8,2693.8L1670.2,2688.2L1663.8,2675.2L1661.8,2672.8L1651.8,2653.2L1644.8,2642.2L1637.2,2627.8L1627.8,2613.2L1624.2,2606.2L1610.2,2583.8L1606.8,2579.2L1603.2,2572.2L1585.8,2547.2L1582.8,2541.8L1563.8,2516.2L1561.8,2512.2L1542.2,2488.2L1532.8,2475.2L1500.8,2439.2L1481.8,2419.8L1466.8,2405.8L1463.8,2403.8L1459.8,2399.2L1430.8,2375.8L1409.8,2361.8L1406.2,2358.8L1384.2,2345.8L1356.8,2331.8L1341.8,2324.8L1334.8,2322.2L1329.2,2319.2L1290.8,2305.2L1271.8,2300.2L1270.2,2299.2L1253.8,2295.8L1250.2,2294.2L1230.2,2290.2L1226.2,2290.2L1220.2,2288.8L1212.8,2288.2Z"/>
<path fill="#FFE800" d="M1178.8,2284.8L1155.8,2284.2L1155.2,2284.8L1137.8,2284.8L1137.2,2285.2L1122.2,2285.8L1099.8,2288.2L1068.8,2293.8L1062.8,2295.8L1055.8,2296.8L1052.2,2298.2L1040.8,2300.8L1002.8,2313.2L972.8,2325.8L951.8,2335.8L922.8,2351.2L894.8,2368.2L863.8,2389.2L861.2,2391.8L854.2,2396.2L851.8,2398.8L836.8,2409.8L828.8,2416.8L821.8,2421.8L814.2,2428.8L812.2,2429.8L778.2,2460.2L761.8,2476.8L742.2,2497.8L720.2,2523.2L700.8,2548.2L695.8,2553.8L694.2,2556.8L690.2,2561.2L683.2,2571.8L677.2,2578.8L674.8,2583.2L671.8,2586.8L669.2,2591.2L645.8,2624.8L644.2,2628.2L641.2,2631.8L638.8,2636.8L626.2,2655.2L624.8,2658.8L615.2,2673.2L608.2,2686.2L604.2,2691.8L601.8,2697.2L598.8,2701.2L590.2,2717.2L579.2,2735.2L570.8,2752.2L568.2,2755.8L559.8,2772.8L557.2,2776.2L515.2,2860.2L498.8,2894.8L492.2,2910.2L486.8,2920.8L485.2,2925.2L479.8,2936.2L477.2,2943.8L467.8,2963.2L462.8,2976.8L459.8,2982.2L449.2,3008.2L446.2,3013.8L441.2,3027.8L432.8,3046.2L427.8,3060.2L424.8,3065.8L419.8,3080.2L416.8,3085.8L411.8,3100.2L408.8,3105.8L403.8,3120.8L400.8,3126.2L395.8,3141.2L389.8,3155.2L391.2,3169.8L396.8,3197.2L403.8,3222.2L411.8,3244.8L420.2,3264.8L432.8,3289.8L443.8,3308.8L459.2,3332.2L475.8,3354.2L491.2,3372.8L513.2,3396.2L528.2,3410.8L550.2,3430.2L573.2,3448.8L595.8,3465.2L618.8,3480.8L665.8,3508.8L708.8,3530.8L728.2,3539.8L756.2,3551.8L789.8,3564.8L846.2,3583.8L884.8,3594.8L914.2,3602.2L977.8,3615.8L1012.8,3621.8L1051.2,3627.2L1085.8,3631.2L1124.2,3634.2L1124.8,3634.8L1128.2,3628.8L1130.8,3621.2L1176.8,3527.2L1210.8,3461.8L1222.8,3439.8L1226.8,3433.8L1234.2,3418.2L1238.2,3412.2L1252.2,3386.8L1275.8,3348.2L1281.8,3336.8L1285.8,3331.2L1296.8,3312.8L1315.8,3284.2L1317.2,3280.8L1339.2,3248.2L1348.2,3236.2L1353.8,3227.2L1384.8,3185.8L1420.2,3142.2L1439.2,3121.8L1440.8,3119.2L1471.2,3087.8L1511.2,3051.8L1515.2,3049.2L1534.2,3033.8L1559.2,3016.8L1567.8,3012.2L1574.2,3007.8L1601.2,2993.8L1611.2,2989.2L1616.2,2987.8L1620.8,2985.2L1632.2,2981.2L1635.8,2980.8L1640.2,2978.8L1644.2,2978.2L1645.8,2977.2L1647.8,2977.2L1651.2,2975.8L1655.8,2975.2L1661.8,2973.2L1672.8,2971.2L1677.8,2971.2L1681.2,2970.2L1686.2,2970.2L1691.8,2969.2L1721.2,2969.2L1721.8,2969.8L1731.8,2970.2L1737.8,2971.8L1742.8,2971.8L1749.8,2973.2L1751.2,2974.2L1765.8,2977.2L1767.2,2978.2L1770.8,2978.8L1777.8,2981.8L1785.2,2983.8L1806.8,2993.8L1804.2,2988.2L1800.8,2977.2L1797.2,2969.8L1795.2,2962.8L1788.8,2948.2L1785.8,2939.2L1779.2,2924.8L1773.8,2909.8L1771.2,2905.2L1769.2,2898.2L1764.2,2888.2L1759.8,2875.8L1749.8,2854.8L1747.8,2848.2L1740.2,2832.8L1738.2,2826.8L1733.2,2817.2L1723.8,2795.2L1716.2,2780.8L1715.2,2777.2L1704.2,2755.8L1703.2,2752.2L1692.2,2731.2L1691.2,2727.8L1666.2,2679.8L1661.8,2672.8L1656.8,2662.2L1644.8,2642.2L1637.2,2627.8L1626.2,2610.8L1622.8,2603.8L1610.2,2583.8L1606.8,2579.2L1603.2,2572.2L1585.8,2547.2L1582.8,2541.8L1563.8,2516.2L1561.8,2512.2L1542.2,2488.2L1537.2,2480.8L1508.2,2447.2L1481.8,2419.8L1466.8,2405.8L1463.8,2403.8L1459.8,2399.2L1442.2,2384.8L1438.8,2382.8L1432.8,2377.2L1415.8,2365.2L1409.8,2361.8L1406.2,2358.8L1376.8,2341.8L1341.8,2324.8L1334.8,2322.2L1329.2,2319.2L1322.8,2317.2L1313.8,2313.2L1293.8,2306.2L1292.2,2306.2L1290.8,2305.2L1271.8,2300.2L1270.2,2299.2L1253.8,2295.8L1250.2,2294.2L1230.2,2290.2L1226.2,2290.2L1220.2,2288.8L1212.8,2288.2L1204.8,2286.8L1179.2,2285.2Z"/>
<path fill="#FFD000" d="M1137.8,2284.8L1137.2,2285.2L1129.8,2285.2L1129.2,2285.8L1122.2,2285.8L1107.2,2287.2L1090.8,2290.2L1086.8,2290.2L1068.8,2293.8L1062.8,2295.8L1055.8,2296.8L1052.2,2298.2L1040.8,2300.8L1018.2,2307.8L985.2,2320.2L980.8,2322.8L967.2,2328.2L935.2,2344.2L906.8,2360.8L881.8,2376.8L863.8,2389.2L861.2,2391.8L854.2,2396.2L851.8,2398.8L836.8,2409.8L828.8,2416.8L821.8,2421.8L814.2,2428.8L812.2,2429.8L778.2,2460.2L761.8,2476.8L742.2,2497.8L720.2,2523.2L700.8,2548.2L695.8,2553.8L694.2,2556.8L690.2,2561.2L683.2,2571.8L677.2,2578.8L674.8,2583.2L655.2,2610.8L649.8,2619.8L645.8,2624.8L644.2,2628.2L640.2,2633.2L638.8,2636.8L626.2,2655.2L624.8,2658.8L615.2,2673.2L608.2,2686.2L604.2,2691.8L601.8,2697.2L598.8,2701.2L590.2,2717.2L579.2,2735.2L536.8,2816.2L498.8,2894.8L496.2,2901.8L481.2,2932.8L477.2,2943.8L467.8,2963.2L462.8,2976.8L459.8,2982.2L449.2,3008.2L446.2,3013.8L441.2,3027.8L433.2,3045.2L433.2,3050.8L436.2,3075.2L440.8,3097.8L447.2,3121.2L453.8,3139.8L462.8,3161.2L473.8,3183.2L487.2,3206.2L500.8,3226.2L519.2,3250.2L531.8,3264.8L546.8,3280.8L570.2,3303.2L591.2,3321.2L613.8,3338.8L631.2,3351.2L665.2,3373.2L685.8,3385.2L711.8,3399.2L739.2,3412.8L776.8,3429.2L823.8,3447.2L856.8,3458.2L903.2,3471.8L937.2,3480.2L966.8,3486.8L1006.2,3494.2L1034.2,3498.8L1075.2,3504.2L1108.8,3507.8L1139.2,3509.8L1139.8,3510.2L1155.2,3510.8L1155.8,3511.2L1183.8,3512.2L1184.2,3512.8L1210.8,3461.8L1222.8,3439.8L1226.8,3433.8L1234.2,3418.2L1238.2,3412.2L1252.2,3386.8L1275.8,3348.2L1278.8,3341.8L1305.8,3298.8L1315.8,3284.2L1317.2,3280.8L1339.2,3248.2L1348.2,3236.2L1353.8,3227.2L1374.8,3199.8L1376.2,3196.8L1398.2,3169.8L1401.8,3164.2L1416.8,3147.2L1420.2,3142.2L1439.2,3121.8L1440.8,3119.2L1471.2,3087.8L1511.2,3051.8L1515.2,3049.2L1534.2,3033.8L1550.8,3022.2L1553.2,3021.2L1564.2,3013.8L1567.8,3012.2L1570.8,3009.8L1591.2,2998.8L1611.2,2989.2L1613.8,2988.8L1626.2,2983.2L1635.8,2980.8L1640.2,2978.8L1644.2,2978.2L1645.8,2977.2L1647.8,2977.2L1651.2,2975.8L1655.8,2975.2L1661.8,2973.2L1672.8,2971.2L1677.8,2971.2L1681.2,2970.2L1686.2,2970.2L1691.8,2969.2L1721.2,2969.2L1721.8,2969.8L1731.8,2970.2L1737.8,2971.8L1742.8,2971.8L1749.8,2973.2L1751.2,2974.2L1760.2,2975.8L1773.8,2979.8L1777.8,2981.8L1781.2,2982.2L1790.8,2986.8L1796.8,2988.8L1806.2,2993.8L1806.8,2993.2L1805.2,2990.8L1800.8,2977.2L1797.2,2969.8L1795.2,2962.8L1788.8,2948.2L1785.8,2939.2L1779.2,2924.8L1773.8,2909.8L1771.2,2905.2L1769.2,2898.2L1764.2,2888.2L1759.8,2875.8L1749.8,2854.8L1747.8,2848.2L1740.2,2832.8L1738.2,2826.8L1733.2,2817.2L1723.8,2795.2L1716.2,2780.8L1715.2,2777.2L1704.2,2755.8L1703.2,2752.2L1692.2,2731.2L1691.2,2727.8L1666.2,2679.8L1661.8,2672.8L1656.8,2662.2L1644.8,2642.2L1637.2,2627.8L1626.2,2610.8L1622.8,2603.8L1610.2,2583.8L1606.8,2579.2L1603.2,2572.2L1585.8,2547.2L1582.8,2541.8L1563.8,2516.2L1561.8,2512.2L1542.2,2488.2L1537.2,2480.8L1500.8,2439.2L1481.8,2419.8L1466.8,2405.8L1463.8,2403.8L1459.8,2399.2L1442.2,2384.8L1438.8,2382.8L1432.8,2377.2L1415.8,2365.2L1409.8,2361.8L1406.2,2358.8L1376.8,2341.8L1341.8,2324.8L1334.8,2322.2L1329.2,2319.2L1301.2,2308.8L1299.8,2308.8L1290.8,2305.2L1287.2,2304.8L1285.8,2303.8L1282.2,2303.2L1280.8,2302.2L1258.2,2296.2L1253.8,2295.8L1250.2,2294.2L1230.2,2290.2L1226.2,2290.2L1220.2,2288.8L1212.8,2288.2L1204.8,2286.8L1179.2,2285.2L1178.8,2284.8L1160.8,2284.8L1160.2,2284.2Z"/>
<path fill="#FFA000" d="M1099.8,2288.2L1090.8,2290.2L1083.8,2290.8L1068.8,2293.8L1062.8,2295.8L1055.8,2296.8L1052.2,2298.2L1046.2,2299.2L1044.8,2300.2L1040.8,2300.8L1029.2,2304.8L1025.8,2305.2L1024.2,2306.2L1009.8,2310.8L985.2,2320.2L980.8,2322.8L967.2,2328.2L947.8,2337.8L922.8,2351.2L894.8,2368.2L877.2,2379.8L854.2,2396.2L821.8,2421.8L798.8,2442.2L796.8,2443.2L778.2,2460.2L761.8,2476.8L742.2,2497.8L720.2,2523.2L700.8,2548.2L695.8,2553.8L694.2,2556.8L690.2,2561.2L683.2,2571.8L677.2,2578.8L674.8,2583.2L655.2,2610.8L649.8,2619.8L645.8,2624.8L644.2,2628.2L640.2,2633.2L638.8,2636.8L626.2,2655.2L624.8,2658.8L615.2,2673.2L608.2,2686.2L604.2,2691.8L601.8,2697.2L598.8,2701.2L590.2,2717.2L579.2,2735.2L570.8,2752.2L568.2,2755.8L559.8,2772.8L557.2,2776.2L533.2,2823.2L498.8,2894.8L496.2,2901.8L481.2,2932.8L481.8,2950.2L483.8,2970.8L487.2,2991.2L492.8,3013.2L501.2,3038.2L509.8,3058.2L518.2,3075.2L530.8,3096.8L544.2,3116.8L561.2,3138.8L581.2,3161.2L598.2,3178.2L614.8,3193.2L632.8,3208.2L651.8,3222.8L677.8,3240.8L701.8,3255.8L728.2,3270.8L762.8,3288.2L785.8,3298.8L822.2,3313.8L845.2,3322.2L879.8,3333.8L913.8,3343.8L948.8,3352.8L975.2,3358.8L1037.2,3370.2L1072.2,3375.2L1107.2,3379.2L1141.8,3381.8L1142.2,3382.2L1175.8,3383.8L1176.2,3384.2L1204.8,3384.8L1205.2,3385.2L1252.8,3385.2L1253.2,3385.8L1275.8,3348.2L1281.8,3336.8L1330.2,3261.2L1348.2,3236.2L1353.8,3227.2L1384.8,3185.8L1398.2,3169.8L1399.8,3166.8L1416.8,3147.2L1420.2,3142.2L1439.2,3121.8L1440.8,3119.2L1471.2,3087.8L1511.2,3051.8L1515.2,3049.2L1534.2,3033.8L1550.8,3022.2L1553.2,3021.2L1564.2,3013.8L1567.8,3012.2L1570.8,3009.8L1606.8,2991.2L1616.2,2987.8L1620.8,2985.2L1632.2,2981.2L1635.8,2980.8L1640.2,2978.8L1644.2,2978.2L1645.8,2977.2L1647.8,2977.2L1651.2,2975.8L1655.8,2975.2L1661.8,2973.2L1672.8,2971.2L1677.8,2971.2L1681.2,2970.2L1686.2,2970.2L1691.8,2969.2L1721.2,2969.2L1721.8,2969.8L1731.8,2970.2L1737.8,2971.8L1742.8,2971.8L1749.8,2973.2L1751.2,2974.2L1760.2,2975.8L1773.8,2979.8L1777.8,2981.8L1781.2,2982.2L1790.8,2986.8L1796.8,2988.8L1806.2,2993.8L1806.8,2993.2L1805.2,2990.8L1800.8,2977.2L1797.2,2969.8L1795.2,2962.8L1788.8,2948.2L1785.8,2939.2L1779.2,2924.8L1773.8,2909.8L1771.2,2905.2L1769.2,2898.2L1764.2,2888.2L1759.8,2875.8L1749.8,2854.8L1747.8,2848.2L1740.2,2832.8L1738.2,2826.8L1733.2,2817.2L1723.8,2795.2L1716.2,2780.8L1715.2,2777.2L1704.2,2755.8L1703.2,2752.2L1692.2,2731.2L1691.2,2727.8L1682.2,2711.2L1673.8,2693.8L1670.2,2688.2L1663.8,2675.2L1661.8,2672.8L1651.8,2653.2L1644.8,2642.2L1637.2,2627.8L1627.8,2613.2L1624.2,2606.2L1610.2,2583.8L1606.8,2579.2L1603.2,2572.2L1585.8,2547.2L1582.8,2541.8L1563.8,2516.2L1561.8,2512.2L1542.2,2488.2L1532.8,2475.2L1527.8,2470.2L1508.2,2447.2L1481.8,2419.8L1449.8,2390.8L1440.2,2383.2L1438.8,2382.8L1430.8,2375.8L1409.8,2361.8L1406.2,2358.8L1384.2,2345.8L1356.8,2331.8L1341.8,2324.8L1334.8,2322.2L1329.2,2319.2L1301.2,2308.8L1299.8,2308.8L1290.8,2305.2L1287.2,2304.8L1285.8,2303.8L1282.2,2303.2L1280.8,2302.2L1271.8,2300.2L1270.2,2299.2L1253.8,2295.8L1250.2,2294.2L1230.2,2290.2L1226.2,2290.2L1220.2,2288.8L1212.8,2288.2L1204.8,2286.8L1179.2,2285.2L1178.8,2284.8L1155.8,2284.2L1155.2,2284.8L1137.8,2284.8L1137.2,2285.2L1122.2,2285.8Z"/>
<path fill="#FF5800" d="M1018.2,2307.8L985.2,2320.2L947.8,2337.8L922.8,2351.2L881.8,2376.8L854.2,2396.2L821.8,2421.8L798.8,2442.2L792.2,2447.2L761.8,2476.8L731.2,2510.2L695.8,2553.8L694.2,2556.8L690.2,2561.2L683.2,2571.8L677.2,2578.8L674.8,2583.2L671.8,2586.8L669.2,2591.2L645.8,2624.8L644.2,2628.2L640.2,2633.2L638.8,2636.8L626.2,2655.2L624.8,2658.8L615.2,2673.2L608.2,2686.2L604.2,2691.8L601.8,2697.2L598.8,2701.2L590.2,2717.2L579.2,2735.2L536.2,2817.2L535.8,2831.2L535.2,2831.8L535.2,2850.2L535.8,2850.8L536.8,2869.8L539.2,2886.2L546.8,2916.8L553.2,2935.2L560.2,2951.8L568.2,2967.8L579.2,2986.8L597.2,3012.8L612.2,3031.2L627.8,3048.2L656.2,3075.2L690.8,3102.8L720.8,3123.2L755.2,3143.8L793.2,3163.2L823.2,3176.8L865.2,3193.2L910.2,3208.2L951.2,3219.8L996.2,3230.2L1050.8,3240.2L1098.2,3246.8L1139.2,3250.8L1167.8,3252.2L1168.2,3252.8L1177.8,3252.8L1178.2,3253.2L1204.8,3253.8L1205.2,3254.2L1267.8,3254.2L1268.2,3253.8L1304.2,3252.8L1304.8,3252.2L1319.8,3251.8L1333.8,3250.2L1337.8,3250.8L1348.2,3236.2L1353.8,3227.2L1374.8,3199.8L1376.2,3196.8L1398.2,3169.8L1401.8,3164.2L1416.8,3147.2L1420.2,3142.2L1439.2,3121.8L1440.8,3119.2L1468.8,3090.2L1500.2,3061.2L1525.8,3040.2L1549.2,3023.2L1574.2,3007.8L1601.2,2993.8L1611.2,2989.2L1616.2,2987.8L1620.8,2985.2L1632.2,2981.2L1661.8,2973.2L1672.8,2971.2L1677.8,2971.2L1681.2,2970.2L1686.2,2970.2L1691.8,2969.2L1721.2,2969.2L1747.8,2972.8L1751.2,2974.2L1765.8,2977.2L1767.2,2978.2L1773.8,2979.8L1777.8,2981.8L1781.2,2982.2L1806.8,2993.8L1804.2,2988.2L1800.8,2977.2L1797.2,2969.8L1795.2,2962.8L1788.8,2948.2L1785.8,2939.2L1779.2,2924.8L1773.8,2909.8L1771.2,2905.2L1769.2,2898.2L1764.2,2888.2L1759.8,2875.8L1749.8,2854.8L1747.8,2848.2L1728.2,2806.2L1727.2,2802.8L1704.2,2755.8L1703.2,2752.2L1692.2,2731.2L1688.2,2721.8L1666.2,2679.8L1661.8,2672.8L1656.8,2662.2L1644.8,2642.2L1637.2,2627.8L1627.8,2613.2L1624.2,2606.2L1610.2,2583.8L1606.8,2579.2L1603.2,2572.2L1585.8,2547.2L1582.8,2541.8L1563.8,2516.2L1561.8,2512.2L1542.2,2488.2L1535.2,2478.2L1508.2,2447.2L1481.8,2419.8L1466.8,2405.8L1463.8,2403.8L1459.8,2399.2L1442.2,2384.8L1438.8,2382.8L1432.8,2377.2L1415.8,2365.2L1409.8,2361.8L1406.2,2358.8L1376.8,2341.8L1341.8,2324.8L1313.8,2313.2L1293.8,2306.2L1292.2,2306.2L1290.8,2305.2L1282.2,2303.2L1280.8,2302.2L1258.2,2296.2L1253.8,2295.8L1250.2,2294.2L1230.2,2290.2L1226.2,2290.2L1216.8,2288.2L1194.2,2285.8L1179.2,2285.2L1178.8,2284.8L1160.8,2284.8L1160.2,2284.2L1137.8,2284.8L1137.2,2285.2L1129.8,2285.2L1129.2,2285.8L1122.2,2285.8L1107.2,2287.2L1090.8,2290.2L1083.8,2290.8L1053.8,2297.2L1052.2,2298.2L1040.8,2300.8Z"/>
<path fill="#F81000" d="M600.8,2699.2L597.2,2717.8L595.8,2731.2L595.8,2738.8L595.2,2739.2L595.8,2765.2L597.2,2778.8L600.2,2795.2L604.2,2810.8L609.8,2827.2L617.2,2845.2L624.2,2859.2L634.8,2877.2L642.8,2889.2L652.8,2902.8L668.2,2921.2L697.2,2950.2L722.2,2971.2L739.8,2984.2L761.2,2998.8L781.8,3011.2L804.2,3023.8L846.8,3044.2L892.8,3062.8L918.8,3071.8L946.2,3080.2L998.2,3093.8L1047.8,3103.8L1097.2,3111.2L1151.2,3116.8L1183.2,3118.2L1183.8,3118.8L1195.2,3118.8L1195.8,3119.2L1212.8,3119.2L1213.2,3119.8L1259.2,3119.8L1259.8,3119.2L1276.8,3119.2L1277.2,3118.8L1288.2,3118.8L1288.8,3118.2L1313.8,3117.2L1314.2,3116.8L1332.8,3115.8L1366.2,3112.2L1417.2,3104.8L1443.8,3099.8L1462.8,3095.2L1463.8,3095.8L1471.2,3087.8L1500.2,3061.2L1506.8,3056.2L1511.2,3051.8L1515.2,3049.2L1534.2,3033.8L1550.8,3022.2L1553.2,3021.2L1564.2,3013.8L1567.8,3012.2L1570.8,3009.8L1601.2,2993.8L1626.2,2983.2L1635.8,2980.8L1640.2,2978.8L1644.2,2978.2L1645.8,2977.2L1647.8,2977.2L1651.2,2975.8L1655.8,2975.2L1661.8,2973.2L1672.8,2971.2L1677.8,2971.2L1681.2,2970.2L1686.2,2970.2L1691.8,2969.2L1725.2,2969.8L1738.8,2955.2L1751.2,2939.8L1761.8,2924.2L1771.8,2905.8L1769.2,2898.2L1762.8,2884.8L1759.8,2875.8L1749.8,2854.8L1747.8,2848.2L1740.2,2832.8L1738.2,2826.8L1733.2,2817.2L1723.8,2795.2L1716.2,2780.8L1715.2,2777.2L1704.2,2755.8L1703.2,2752.2L1673.8,2693.8L1670.2,2688.2L1663.8,2675.2L1661.8,2672.8L1651.8,2653.2L1644.8,2642.2L1637.2,2627.8L1627.8,2613.2L1624.2,2606.2L1610.2,2583.8L1606.8,2579.2L1603.2,2572.2L1585.8,2547.2L1582.8,2541.8L1563.8,2516.2L1561.8,2512.2L1542.2,2488.2L1535.2,2478.2L1508.2,2447.2L1481.8,2419.8L1449.8,2390.8L1440.2,2383.2L1438.8,2382.8L1432.8,2377.2L1415.8,2365.2L1409.8,2361.8L1406.2,2358.8L1384.2,2345.8L1341.8,2324.8L1308.2,2311.2L1292.2,2306.2L1290.8,2305.2L1271.8,2300.2L1270.2,2299.2L1253.8,2295.8L1250.2,2294.2L1230.2,2290.2L1226.2,2290.2L1220.2,2288.8L1212.8,2288.2L1204.8,2286.8L1179.2,2285.2L1178.8,2284.8L1160.8,2284.8L1160.2,2284.2L1137.8,2284.8L1137.2,2285.2L1122.2,2285.8L1099.8,2288.2L1090.8,2290.2L1083.8,2290.8L1068.8,2293.8L1062.8,2295.8L1055.8,2296.8L1052.2,2298.2L1040.8,2300.8L1018.2,2307.8L1002.8,2313.2L972.8,2325.8L935.2,2344.2L894.8,2368.2L877.2,2379.8L854.2,2396.2L821.8,2421.8L814.2,2428.8L812.2,2429.8L778.2,2460.2L761.8,2476.8L737.8,2502.8L736.2,2505.2L720.2,2523.2L700.8,2548.2L695.8,2553.8L694.2,2556.8L690.2,2561.2L683.2,2571.8L677.2,2578.8L649.8,2619.8L646.8,2623.2L644.2,2628.2L641.2,2631.8L638.8,2636.8L626.2,2655.2L624.8,2658.8L615.2,2673.2L608.2,2686.2L604.2,2691.8Z"/>
<path fill="#E80000" d="M670.2,2605.2L666.8,2619.8L664.2,2636.8L663.8,2666.8L664.2,2667.2L664.8,2677.2L667.8,2694.8L671.2,2708.2L677.2,2725.8L681.8,2736.2L691.8,2755.8L707.8,2780.2L728.2,2805.2L740.8,2818.2L755.2,2831.8L770.8,2844.8L785.2,2855.8L818.2,2877.8L851.2,2896.2L874.8,2907.8L898.8,2918.2L938.2,2933.2L986.8,2948.2L1038.8,2960.8L1085.8,2969.2L1132.2,2975.2L1159.8,2977.2L1160.2,2977.8L1166.8,2977.8L1167.2,2978.2L1183.2,2978.8L1183.8,2979.2L1209.2,2979.8L1209.8,2980.2L1260.2,2980.2L1260.8,2979.8L1294.8,2978.8L1295.2,2978.2L1315.8,2977.2L1345.8,2974.2L1397.2,2966.8L1423.2,2961.8L1451.8,2955.2L1492.8,2943.8L1528.8,2931.2L1565.2,2915.8L1592.8,2901.8L1609.8,2891.8L1627.2,2880.2L1640.8,2870.2L1663.8,2850.2L1675.2,2838.2L1685.2,2826.2L1695.8,2811.2L1702.8,2799.2L1709.8,2784.2L1713.2,2774.2L1704.2,2755.8L1703.2,2752.2L1692.2,2731.2L1688.2,2721.8L1666.2,2679.8L1661.8,2672.8L1656.8,2662.2L1644.8,2642.2L1637.2,2627.8L1627.8,2613.2L1624.2,2606.2L1610.2,2583.8L1606.8,2579.2L1603.2,2572.2L1585.8,2547.2L1582.8,2541.8L1563.8,2516.2L1561.8,2512.2L1542.2,2488.2L1537.2,2480.8L1508.2,2447.2L1486.2,2424.2L1466.8,2405.8L1463.8,2403.8L1459.8,2399.2L1442.2,2384.8L1438.8,2382.8L1432.8,2377.2L1415.8,2365.2L1409.8,2361.8L1406.2,2358.8L1376.8,2341.8L1341.8,2324.8L1334.8,2322.2L1329.2,2319.2L1301.2,2308.8L1299.8,2308.8L1290.8,2305.2L1287.2,2304.8L1285.8,2303.8L1282.2,2303.2L1280.8,2302.2L1271.8,2300.2L1270.2,2299.2L1253.8,2295.8L1250.2,2294.2L1230.2,2290.2L1226.2,2290.2L1216.8,2288.2L1194.2,2285.8L1155.8,2284.2L1155.2,2284.8L1137.8,2284.8L1137.2,2285.2L1122.2,2285.8L1083.8,2290.8L1068.8,2293.8L1062.8,2295.8L1055.8,2296.8L1052.2,2298.2L1040.8,2300.8L1002.8,2313.2L967.2,2328.2L947.8,2337.8L922.8,2351.2L894.8,2368.2L877.2,2379.8L836.8,2409.8L828.8,2416.8L821.8,2421.8L814.2,2428.8L812.2,2429.8L798.8,2442.2L792.2,2447.2L761.8,2476.8L737.8,2502.8L736.2,2505.2L722.8,2520.2L695.8,2553.8L694.2,2556.8L685.2,2568.2L676.8,2586.2Z"/>
<path fill="#D80000" d="M747.2,2529.2L744.8,2543.8L744.2,2556.2L743.8,2556.8L744.8,2578.8L747.8,2595.8L750.8,2606.8L759.8,2629.8L772.2,2652.2L781.2,2665.2L791.2,2677.8L798.8,2686.2L813.8,2701.2L836.8,2720.8L866.8,2741.8L898.8,2760.2L933.2,2776.8L965.8,2789.8L1006.8,2803.2L1046.8,2813.8L1085.8,2821.8L1133.2,2828.8L1163.8,2831.8L1176.8,2832.2L1177.2,2832.8L1210.2,2833.8L1210.8,2834.2L1268.2,2833.8L1268.8,2833.2L1286.2,2832.8L1286.8,2832.2L1293.8,2832.2L1294.2,2831.8L1316.2,2830.2L1358.2,2824.8L1400.2,2816.8L1445.8,2804.8L1483.2,2791.8L1512.2,2779.2L1532.8,2768.8L1551.2,2757.8L1565.2,2748.2L1578.2,2738.2L1598.2,2719.8L1608.8,2707.8L1614.8,2699.8L1622.8,2687.2L1628.2,2676.8L1635.8,2656.8L1638.2,2645.8L1639.2,2635.8L1640.2,2633.2L1626.2,2610.8L1622.8,2603.8L1610.2,2583.8L1606.8,2579.2L1603.2,2572.2L1585.8,2547.2L1582.8,2541.8L1563.8,2516.2L1561.8,2512.2L1542.2,2488.2L1537.2,2480.8L1508.2,2447.2L1486.2,2424.2L1466.8,2405.8L1463.8,2403.8L1459.8,2399.2L1454.2,2395.2L1449.8,2390.8L1440.2,2383.2L1438.8,2382.8L1430.8,2375.8L1409.8,2361.8L1406.2,2358.8L1376.8,2341.8L1341.8,2324.8L1334.8,2322.2L1329.2,2319.2L1301.2,2308.8L1299.8,2308.8L1290.8,2305.2L1287.2,2304.8L1285.8,2303.8L1282.2,2303.2L1280.8,2302.2L1271.8,2300.2L1270.2,2299.2L1253.8,2295.8L1250.2,2294.2L1230.2,2290.2L1226.2,2290.2L1209.2,2287.2L1194.2,2285.8L1179.2,2285.2L1178.8,2284.8L1160.8,2284.8L1160.2,2284.2L1137.8,2284.8L1137.2,2285.2L1129.8,2285.2L1129.2,2285.8L1122.2,2285.8L1107.2,2287.2L1090.8,2290.2L1083.8,2290.8L1068.8,2293.8L1062.8,2295.8L1055.8,2296.8L1052.2,2298.2L1040.8,2300.8L1002.8,2313.2L967.2,2328.2L935.2,2344.2L894.8,2368.2L863.8,2389.2L821.8,2421.8L813.2,2429.8L811.2,2430.8L803.2,2437.8L784.8,2456.8L775.2,2468.8L767.2,2480.8L761.2,2491.2L754.8,2505.2L750.8,2516.2Z"/>
<path fill="#C00000" d="M846.8,2446.2L844.8,2460.8L845.2,2480.8L848.8,2498.2L855.8,2517.2L865.2,2534.8L878.8,2553.2L897.8,2573.2L914.2,2587.2L935.2,2602.2L958.8,2616.2L988.2,2630.8L1016.8,2642.2L1050.2,2653.2L1078.8,2660.8L1112.8,2667.8L1146.2,2672.8L1176.8,2675.8L1203.8,2676.8L1204.2,2677.2L1248.8,2677.2L1249.2,2676.8L1260.2,2676.8L1260.8,2676.2L1268.8,2676.2L1269.2,2675.8L1287.2,2674.8L1319.8,2670.8L1354.8,2664.2L1387.8,2655.8L1413.2,2647.2L1441.8,2635.2L1461.8,2624.8L1483.2,2610.8L1500.2,2596.8L1508.2,2588.8L1516.8,2578.8L1527.2,2562.8L1532.2,2552.2L1535.2,2543.8L1538.8,2527.2L1539.2,2511.2L1538.2,2501.8L1534.8,2486.8L1531.8,2478.2L1527.8,2469.8L1508.2,2447.2L1481.8,2419.8L1466.8,2405.8L1463.8,2403.8L1459.8,2399.2L1430.8,2375.8L1409.8,2361.8L1406.2,2358.8L1384.2,2345.8L1356.8,2331.8L1326.8,2318.2L1322.8,2317.2L1301.2,2308.8L1299.8,2308.8L1290.8,2305.2L1287.2,2304.8L1285.8,2303.8L1282.2,2303.2L1280.8,2302.2L1271.8,2300.2L1270.2,2299.2L1253.8,2295.8L1250.2,2294.2L1230.2,2290.2L1226.2,2290.2L1209.2,2287.2L1194.2,2285.8L1179.2,2285.2L1178.8,2284.8L1155.8,2284.2L1155.2,2284.8L1137.8,2284.8L1137.2,2285.2L1122.2,2285.8L1099.8,2288.2L1068.8,2293.8L1062.8,2295.8L1055.8,2296.8L1052.2,2298.2L1040.8,2300.8L1018.2,2307.8L985.2,2320.2L951.8,2335.8L923.8,2350.8L904.2,2363.8L890.8,2374.8L873.8,2392.2L861.2,2409.8L851.8,2429.2Z"/>
<path fill="none" stroke="#140a00" stroke-width="2.3" stroke-linejoin="round" d="M1155.8,2284.2L1155.2,2284.8L1137.8,2284.8L1137.2,2285.2L1122.2,2285.8L1099.8,2288.2L1068.8,2293.8L1062.8,2295.8L1055.8,2296.8L1052.2,2298.2L1046.2,2299.2L1044.8,2300.2L1040.8,2300.8L1018.2,2307.8L985.2,2320.2L980.8,2322.8L967.2,2328.2L935.2,2344.2L906.8,2360.8L877.2,2379.8L854.2,2396.2L821.8,2421.8L798.8,2442.2L796.8,2443.2L778.2,2460.2L761.8,2476.8L742.2,2497.8L722.8,2520.2L695.8,2553.8L694.2,2556.8L690.2,2561.2L683.2,2571.8L677.2,2578.8L649.8,2619.8L646.8,2623.2L644.2,2628.2L641.2,2631.8L638.8,2636.8L626.2,2655.2L624.8,2658.8L615.2,2673.2L608.2,2686.2L604.2,2691.8L601.8,2697.2L598.8,2701.2L590.2,2717.2L579.2,2735.2L536.8,2816.2L498.8,2894.8L496.2,2901.8L481.2,2932.8L477.2,2943.8L467.8,2963.2L462.8,2976.8L459.8,2982.2L449.2,3008.2L446.2,3013.8L441.2,3027.8L432.8,3046.2L427.8,3060.2L423.8,3068.2L419.8,3080.2L415.8,3088.2L411.8,3100.2L408.8,3105.8L403.8,3120.8L400.8,3126.2L395.8,3141.2L392.8,3147.2L385.2,3168.8L380.8,3178.8L377.2,3190.2L372.8,3200.2L366.8,3218.8L363.8,3224.8L360.2,3235.8M435.8,3414.2L451.8,3413.8L475.8,3416.2L497.2,3421.2L500.2,3422.8L502.2,3422.8L505.2,3424.2L508.2,3424.8L511.8,3426.8L517.2,3428.2L536.2,3436.8L549.8,3444.2L554.8,3447.8L559.2,3449.8L579.8,3463.8L587.2,3470.2L590.8,3472.2L594.2,3475.8L595.8,3476.2L620.8,3498.2L657.8,3536.8L683.8,3567.8L695.2,3583.8L699.8,3588.8L704.2,3595.8L710.8,3603.8L712.8,3607.8L722.8,3620.8L724.8,3624.8L730.8,3633.2M1086.8,3719.8L1095.2,3698.8L1122.2,3640.2L1128.2,3628.8L1130.8,3621.2L1186.8,3507.2L1205.8,3472.2L1210.8,3461.8L1222.8,3439.8L1226.8,3433.8L1234.2,3418.2L1238.2,3412.2L1252.2,3386.8L1275.8,3348.2L1281.8,3336.8L1330.2,3261.2L1348.2,3236.2L1353.8,3227.2L1374.8,3199.8L1376.2,3196.8L1398.2,3169.8L1401.8,3164.2L1416.8,3147.2L1420.2,3142.2L1439.2,3121.8L1440.8,3119.2L1468.8,3090.2L1491.8,3068.8L1511.2,3051.8L1515.2,3049.2L1534.2,3033.8L1550.8,3022.2L1553.2,3021.2L1559.2,3016.8L1567.8,3012.2L1574.2,3007.8L1601.2,2993.8L1611.2,2989.2L1616.2,2987.8L1620.8,2985.2L1632.2,2981.2L1635.8,2980.8L1640.2,2978.8L1644.2,2978.2L1645.8,2977.2L1647.8,2977.2L1651.2,2975.8L1655.8,2975.2L1661.8,2973.2L1672.8,2971.2L1677.8,2971.2L1681.2,2970.2L1686.2,2970.2L1691.8,2969.2L1721.2,2969.2L1721.8,2969.8L1731.8,2970.2L1737.8,2971.8L1742.8,2971.8L1749.8,2973.2L1751.2,2974.2L1765.8,2977.2L1767.2,2978.2L1770.8,2978.8L1777.8,2981.8L1785.2,2983.8L1806.8,2993.8L1804.2,2988.2L1800.8,2977.2L1797.2,2969.8L1795.2,2962.8L1788.8,2948.2L1785.8,2939.2L1779.2,2924.8L1773.8,2909.8L1771.2,2905.2L1769.2,2898.2L1764.2,2888.2L1759.8,2875.8L1749.8,2854.8L1747.8,2848.2L1740.2,2832.8L1738.2,2826.8L1733.2,2817.2L1723.8,2795.2L1716.2,2780.8L1715.2,2777.2L1704.2,2755.8L1703.2,2752.2L1692.2,2731.2L1691.2,2727.8L1666.2,2679.8L1661.8,2672.8L1656.8,2662.2L1644.8,2642.2L1637.2,2627.8L1626.2,2610.8L1622.8,2603.8L1610.2,2583.8L1606.8,2579.2L1603.2,2572.2L1585.8,2547.2L1582.8,2541.8L1563.8,2516.2L1561.8,2512.2L1542.2,2488.2L1537.2,2480.8L1508.2,2447.2L1481.8,2419.8L1466.8,2405.8L1463.8,2403.8L1459.8,2399.2L1430.8,2375.8L1409.8,2361.8L1406.2,2358.8L1376.8,2341.8L1347.2,2327.2L1334.8,2322.2L1329.2,2319.2L1301.2,2308.8L1299.8,2308.8L1290.8,2305.2L1287.2,2304.8L1285.8,2303.8L1282.2,2303.2L1280.8,2302.2L1271.8,2300.2L1270.2,2299.2L1253.8,2295.8L1250.2,2294.2L1230.2,2290.2L1226.2,2290.2L1220.2,2288.8L1212.8,2288.2L1204.8,2286.8L1179.2,2285.2L1178.8,2284.8L1156.2,2284.2"/>
<path d="M1071.5,3753.0L1120.4,3643.9L1144.1,3593.5L1169.3,3541.9L1193.1,3495.1L1218.3,3447.4L1242.1,3404.4L1265.9,3363.3L1289.6,3324.0L1314.8,3284.4L1338.4,3249.2L1362.0,3216.0L1385.5,3184.7L1409.0,3155.5L1432.4,3128.4L1455.7,3103.3L1478.9,3080.3L1502.0,3059.4L1525.0,3040.7L1547.9,3024.1L1570.6,3009.7L1591.7,2998.1L1614.2,2987.9L1636.5,2979.8L1657.2,2974.2L1679.1,2970.4L1700.9,2968.8L1722.4,2969.4L1743.8,2972.1L1764.9,2977.1L1785.8,2984.2L1806.5,2993.5M997.5,3741.1L1024.0,3677.7L1049.1,3619.7L1075.7,3560.3L1100.9,3506.2L1126.1,3454.1L1151.3,3403.9L1176.6,3355.9L1201.8,3309.9L1227.1,3266.0L1252.3,3224.3L1277.5,3184.8L1302.6,3147.5L1327.7,3112.5L1352.8,3079.8L1377.7,3049.5L1401.1,3023.0L1425.9,2997.2L1450.5,2973.8L1475.1,2952.8L1498.1,2935.3L1520.9,2919.9L1545.1,2906.0L1567.6,2895.1L1591.4,2886.0L1613.7,2879.7L1637.1,2875.4L1659.0,2873.6L1682.0,2874.2L1703.5,2877.0L1726.1,2882.3L1747.1,2889.7L1769.3,2899.9M928.1,3729.5L954.5,3663.6L980.9,3599.6L1007.4,3537.6L1034.0,3477.8L1060.6,3420.2L1087.2,3364.8L1113.9,3311.6L1139.2,3263.5L1165.9,3214.9L1191.1,3171.2L1217.8,3127.3L1243.0,3088.2L1268.2,3051.3L1294.7,3014.7L1321.2,2980.7L1346.2,2951.1L1372.5,2922.3L1397.3,2897.5L1421.9,2875.2L1446.5,2855.3L1472.3,2836.9L1496.6,2822.1L1520.7,2809.8L1544.6,2800.0L1568.4,2792.7L1592.0,2787.9L1615.4,2785.6L1639.9,2785.9L1662.9,2788.8L1685.6,2794.2L1708.1,2802.1L1731.6,2813.2M864.9,3713.3L892.5,3641.5L920.2,3571.9L948.1,3504.6L974.5,3442.9L1002.5,3380.1L1029.1,3322.9L1055.8,3268.0L1082.4,3215.3L1109.1,3165.0L1135.8,3117.1L1162.5,3071.6L1189.2,3028.6L1215.8,2988.2L1242.4,2950.3L1269.0,2915.0L1295.4,2882.4L1321.8,2852.4L1348.1,2825.1L1374.3,2800.5L1399.0,2779.9L1424.9,2760.7L1450.7,2744.3L1476.3,2730.7L1500.4,2720.4L1525.6,2712.3L1550.7,2707.0L1574.2,2704.7L1598.8,2704.9L1623.3,2708.0L1646.1,2713.5L1670.0,2722.1L1693.7,2733.5M806.4,3695.0L835.2,3617.6L862.8,3546.2L890.5,3477.1L918.3,3410.2L946.1,3345.8L974.1,3283.7L1002.1,3224.1L1028.7,3170.0L1056.8,3115.5L1083.5,3066.3L1111.6,3016.9L1138.3,2972.8L1166.4,2928.9L1193.0,2889.9L1221.0,2851.7L1247.5,2818.1L1275.4,2785.6L1301.8,2757.6L1328.0,2732.3L1354.1,2709.8L1380.1,2690.1L1406.0,2673.1L1431.7,2659.0L1457.3,2647.7L1482.6,2639.3L1507.8,2633.7L1532.8,2631.0L1557.5,2631.1L1582.1,2634.1L1606.4,2639.9L1630.4,2648.5L1655.5,2660.7M754.0,3669.6L782.7,3590.8L810.0,3518.0L839.0,3443.9L866.6,3375.7L895.8,3306.5L923.6,3243.3L951.6,3182.5L979.5,3124.2L1007.6,3068.6L1035.6,3015.6L1063.7,2965.3L1090.3,2920.2L1118.4,2875.3L1146.5,2833.3L1174.5,2794.3L1201.0,2759.9L1228.9,2726.6L1255.3,2697.9L1281.6,2671.8L1309.2,2647.4L1336.7,2626.0L1362.6,2608.7L1389.8,2593.4L1415.4,2581.9L1440.9,2573.3L1466.1,2567.5L1492.6,2564.5L1517.4,2564.6L1542.0,2567.5L1567.8,2573.8L1593.2,2583.2L1617.1,2595.0M716.2,3612.1L744.8,3533.0L772.0,3460.1L800.8,3385.7L828.3,3317.4L857.4,3248.0L885.2,3184.6L913.0,3123.7L940.9,3065.3L968.8,3009.5L996.8,2956.4L1024.8,2906.0L1051.4,2860.8L1079.4,2815.9L1107.5,2773.8L1135.5,2734.7L1161.9,2700.3L1189.8,2667.0L1216.2,2638.2L1243.9,2610.8L1270.1,2587.7L1297.6,2566.3L1323.5,2549.0L1350.7,2533.8L1376.4,2522.4L1401.8,2513.8L1427.1,2508.1L1453.6,2505.1L1478.5,2505.3L1503.2,2508.4L1529.0,2514.8L1554.6,2524.4L1578.5,2536.4M678.8,3562.1L707.1,3482.8L734.2,3409.7L762.9,3335.2L790.3,3266.7L819.3,3197.1L846.9,3133.6L874.6,3072.5L902.4,3014.0L930.2,2958.1L958.1,2904.8L986.1,2854.3L1012.6,2809.0L1040.5,2764.0L1068.5,2721.9L1096.5,2682.6L1122.9,2648.2L1150.8,2614.8L1177.1,2586.0L1204.8,2558.6L1230.9,2535.5L1258.4,2514.1L1284.4,2496.8L1311.6,2481.6L1337.3,2470.2L1362.8,2461.6L1389.5,2455.7L1414.7,2453.1L1439.6,2453.3L1464.3,2456.5L1490.2,2462.9L1514.5,2472.0L1539.9,2484.7M641.6,3519.5L669.8,3440.0L696.8,3366.8L725.3,3292.0L752.5,3223.4L781.4,3153.7L808.9,3090.0L836.4,3028.8L864.1,2970.2L891.9,2914.1L919.7,2860.8L947.5,2810.2L973.9,2764.8L1001.8,2719.7L1029.7,2677.5L1057.6,2638.2L1084.0,2603.7L1111.8,2570.2L1138.1,2541.3L1165.8,2513.8L1191.9,2490.7L1218.0,2470.3L1245.3,2451.9L1272.6,2436.7L1298.2,2425.3L1323.7,2416.7L1349.1,2411.0L1374.3,2408.2L1386.8,2407.9L1400.7,2408.4L1413.1,2409.7L1426.8,2411.9L1451.4,2418.1L1475.7,2427.2L1501.1,2439.9M604.9,3484.2L632.9,3404.6L659.7,3331.2L688.1,3256.4L715.1,3187.6L743.8,3117.8L771.1,3054.0L798.6,2992.6L826.2,2933.9L853.8,2877.7L881.5,2824.3L909.2,2773.6L935.5,2728.1L963.3,2682.9L991.2,2640.5L1019.0,2601.1L1045.3,2566.6L1073.0,2533.0L1099.3,2504.1L1126.9,2476.5L1153.0,2453.3L1180.5,2431.8L1206.4,2414.4L1232.2,2399.9L1259.3,2387.6L1286.2,2378.6L1311.5,2373.1L1336.7,2370.4L1361.8,2370.6L1375.6,2372.0L1387.9,2374.0L1412.5,2380.2L1438.3,2389.9L1462.4,2402.0M568.6,3456.2L596.4,3376.5L623.0,3303.0L651.2,3228.0L678.1,3159.1L706.6,3089.2L733.8,3025.3L761.1,2963.8L788.5,2905.0L816.0,2848.7L843.6,2795.2L869.8,2746.9L897.4,2698.8L925.1,2653.4L952.8,2611.0L980.6,2571.5L1006.8,2536.8L1034.5,2503.2L1060.7,2474.1L1088.2,2446.5L1114.3,2423.1L1141.7,2401.6L1167.6,2384.1L1193.3,2369.5L1220.4,2357.1L1245.9,2348.4L1271.3,2342.6L1296.5,2339.7L1310.4,2339.4L1322.9,2339.8L1347.8,2342.9L1373.8,2349.3L1398.2,2358.3L1423.8,2371.0M532.8,3435.3L560.4,3355.5L586.8,3282.0L614.8,3206.9L641.5,3137.9L669.8,3067.9L696.9,3003.9L724.0,2942.3L751.3,2883.3L778.6,2827.0L806.0,2773.3L833.5,2722.4L859.6,2676.7L887.2,2631.3L914.8,2588.7L942.4,2549.1L968.6,2514.3L996.2,2480.6L1022.3,2451.4L1049.8,2423.6L1075.8,2400.2L1103.2,2378.5L1129.0,2360.9L1156.2,2345.4L1181.8,2333.7L1207.3,2324.9L1234.0,2318.7L1259.2,2315.9L1284.3,2315.9L1309.1,2318.9L1335.1,2325.2L1359.6,2334.1L1385.2,2346.6M497.5,3421.5L523.5,3345.6L549.7,3271.8L576.1,3200.3L602.6,3131.0L629.3,3064.1L654.7,3002.9L681.7,2940.7L707.3,2884.2L734.5,2827.0L760.3,2775.4L786.2,2726.1L812.1,2679.4L838.1,2635.1L864.1,2593.5L890.2,2554.4L916.2,2518.0L942.3,2484.3L968.3,2453.4L994.3,2425.1L1020.3,2399.7L1046.2,2377.0L1072.0,2357.2L1097.8,2340.3L1122.0,2326.9L1147.6,2315.5L1173.1,2307.0L1198.4,2301.4L1222.1,2298.8L1245.8,2298.8L1270.6,2301.6L1295.3,2307.3L1319.8,2315.9M462.8,3414.6L511.8,3272.5L536.6,3204.4L561.5,3138.3L586.6,3074.3L611.7,3012.4L637.1,2952.8L661.1,2898.5L686.6,2843.3L710.8,2793.3L736.5,2742.8L760.9,2697.3L786.7,2651.5L811.1,2610.7L835.6,2572.1L860.1,2535.9L886.0,2500.1L910.5,2468.8L935.0,2439.9L959.5,2413.4L983.9,2389.5L1008.3,2368.0L1032.6,2349.1L1056.9,2332.7L1081.1,2318.8L1105.2,2307.5L1129.2,2298.8L1153.1,2292.7L1176.9,2289.1L1200.6,2288.1L1224.1,2289.8L1247.5,2294.0M428.7,3414.4L475.9,3276.1L522.4,3148.8L545.8,3088.0L569.4,3029.0L593.1,2972.0L615.5,2920.1L639.4,2867.0L663.4,2816.0L687.5,2767.0L710.2,2723.0L734.4,2678.3L757.3,2638.3L781.6,2597.9L804.5,2562.1L828.9,2526.3L851.8,2494.8L876.2,2463.6L899.2,2436.4L923.5,2410.0L946.4,2387.4L969.3,2366.9L992.2,2348.7L1016.4,2331.8L1039.1,2318.3L1061.7,2307.0L1084.3,2297.9L1106.8,2291.2L1129.2,2286.7L1151.5,2284.5L1173.7,2284.6M400.5,3404.6L444.6,3274.8L488.0,3155.2L531.9,3042.1L576.2,2935.9L598.5,2885.5L620.9,2836.8L642.0,2792.9L664.6,2747.9L687.2,2704.9L708.4,2666.3L731.1,2627.0L752.5,2592.0L775.3,2556.7L796.7,2525.5L819.5,2494.2L840.9,2466.8L863.7,2439.7L885.1,2416.2L906.5,2394.6L927.9,2375.0L949.2,2357.3L972.0,2340.5L993.2,2326.9L1014.4,2315.2L1035.6,2305.6L1058.0,2297.4L1079.0,2291.9L1099.9,2288.4M383.4,3369.4L423.3,3253.3L462.4,3146.3L503.3,3041.2L543.1,2945.4L583.3,2855.4L623.8,2771.5L664.5,2693.8L685.6,2656.1L705.4,2622.6L726.6,2588.3L746.5,2558.0L766.3,2529.2L786.2,2502.1L807.5,2474.8L827.3,2451.0L847.2,2428.8L867.1,2408.3L888.4,2388.3L908.2,2371.3L928.0,2356.0L947.8,2342.4L967.5,2330.5L987.2,2320.3L1006.9,2311.9L1026.5,2305.2M369.4,3333.5L405.2,3231.1L441.3,3133.2L477.9,3040.0L514.7,2951.6L551.9,2868.3L587.9,2793.0L624.1,2722.7L660.5,2657.6L697.0,2597.7L733.6,2543.2L751.9,2518.0L770.3,2494.3L788.6,2471.9L807.0,2450.9L825.4,2431.3L843.7,2413.2L860.6,2397.7L879.0,2382.4L897.3,2368.5L915.6,2356.1L933.8,2345.1L950.6,2336.3M358.5,3297.4L390.1,3208.5L422.1,3123.2L454.4,3041.7L486.9,2964.0L519.6,2890.3L551.2,2823.5L584.3,2758.0L616.2,2699.2L649.7,2642.3L681.8,2591.9L714.0,2545.8L746.3,2504.0L778.6,2466.6L810.9,2433.6L827.7,2418.2L843.1,2405.1L858.6,2393.1L875.4,2381.2M350.5,3261.3L378.2,3185.7L406.0,3112.9L434.0,3043.0L462.3,2976.1L490.7,2912.2L518.0,2854.3L546.7,2796.6L574.2,2744.7L603.2,2693.5L630.9,2647.9L658.6,2605.4L686.5,2566.2L715.7,2528.4L743.7,2495.9L771.6,2466.7L799.5,2440.8M761.1,3681.2L739.5,3646.7L716.8,3612.9L694.2,3581.9L671.7,3553.5L649.4,3527.8L627.2,3504.8L605.2,3484.4L582.1,3465.8L560.4,3450.8L537.7,3437.8L516.4,3428.1L494.1,3420.5L473.2,3415.9L451.4,3413.8L429.8,3414.3L408.5,3417.4M893.9,3721.0L861.0,3655.2L827.0,3592.8L793.2,3536.3L759.5,3485.7L742.8,3462.7L726.1,3441.0L709.4,3420.9L691.7,3400.9L675.2,3383.8L658.8,3368.1L642.5,3353.9L625.1,3340.2L608.9,3329.0L591.7,3318.5L575.8,3310.1L558.8,3302.7L541.9,3296.8L526.3,3292.8L510.8,3290.1L494.2,3288.7L479.0,3288.7L462.7,3290.3L446.6,3293.2L430.6,3297.7L414.8,3303.6L399.1,3310.9L383.6,3319.6L367.2,3330.4M1001.1,3741.5L980.3,3692.9L959.5,3646.3L938.7,3602.0L918.0,3559.8L897.2,3519.9L876.5,3482.1L855.8,3446.5L834.0,3411.2L813.4,3380.1L793.0,3351.2L772.5,3324.5L751.0,3298.6L730.8,3276.4L709.5,3255.2L689.5,3237.3L668.5,3220.8L648.7,3207.3L627.9,3195.3L607.3,3185.6L586.9,3178.2L566.6,3173.1L546.5,3170.2L526.6,3169.5L506.8,3171.0L487.3,3174.7L466.9,3180.8L447.7,3188.7L427.8,3199.3L408.1,3212.1L388.6,3227.0L369.4,3244.1L350.4,3263.3M1084.4,3723.5L1062.4,3667.7L1040.3,3614.4L1018.2,3563.5L996.1,3515.0L974.1,3469.0L952.0,3425.5L930.0,3384.4L908.0,3345.8L886.0,3309.6L864.2,3275.9L842.3,3244.7L819.4,3214.4L797.8,3188.2L775.0,3163.2L753.6,3142.0L731.1,3122.2L709.9,3106.0L687.7,3091.4L665.6,3079.3L643.8,3069.9L622.0,3063.1L600.5,3058.7L579.2,3056.8L558.1,3057.4L537.1,3060.4L515.3,3066.1L494.9,3073.9L473.6,3084.6L452.5,3097.8L431.8,3113.4L411.3,3131.3L391.0,3151.6M1131.2,3620.6L1109.1,3564.7L1087.0,3511.1L1064.9,3460.0L1042.8,3411.4L1020.6,3365.2L998.5,3321.5L976.4,3280.2L954.3,3241.4L932.3,3205.1L910.3,3171.3L888.4,3139.9L865.4,3109.4L843.6,3083.1L820.7,3058.0L799.2,3036.7L776.5,3016.8L755.2,3000.4L732.8,2985.7L710.6,2973.6L688.5,2964.1L666.6,2957.1L644.9,2952.7L623.4,2950.8L602.1,2951.3L580.9,2954.2L558.9,2959.9L538.2,2967.7L516.7,2978.3L495.4,2991.5L474.4,3007.0L453.6,3025.0L433.1,3045.3M1178.1,3524.4L1156.0,3468.3L1133.9,3414.6L1111.7,3363.3L1089.5,3314.5L1067.4,3268.2L1045.2,3224.3L1023.0,3182.9L1000.9,3143.9L978.8,3107.5L956.7,3073.5L934.7,3042.0L911.5,3011.4L889.7,2985.0L866.7,2959.7L845.0,2938.3L822.2,2918.3L800.8,2901.8L778.2,2887.0L755.9,2874.8L733.6,2865.2L711.6,2858.2L689.7,2853.6L668.0,2851.6L646.4,2852.1L625.1,2854.9L602.9,2860.5L582.0,2868.3L560.2,2878.9L538.7,2891.9L517.4,2907.5L496.4,2925.4L475.7,2945.6M1225.0,3435.2L1202.9,3378.9L1180.8,3325.1L1158.6,3273.7L1136.4,3224.7L1114.2,3178.3L1092.0,3134.2L1069.7,3092.7L1047.5,3053.7L1025.4,3017.1L1003.2,2983.0L981.2,2951.4L957.9,2920.7L935.9,2894.1L912.9,2868.8L891.1,2847.2L868.2,2827.1L846.6,2810.5L823.9,2795.6L801.4,2783.3L779.0,2773.6L756.8,2766.4L734.7,2761.8L712.8,2759.7L691.1,2760.1L669.6,2762.9L647.2,2768.4L626.1,2776.0L604.1,2786.5L582.3,2799.5L560.8,2815.0L539.6,2832.8L518.6,2853.0M1271.9,3353.1L1249.8,3296.8L1227.6,3242.8L1205.5,3191.3L1183.3,3142.3L1161.0,3095.7L1138.8,3051.6L1116.5,3010.0L1094.3,2970.8L1072.1,2934.2L1049.9,2900.0L1027.7,2868.2L1004.4,2837.4L982.3,2810.8L959.1,2785.3L937.3,2763.7L914.2,2743.5L892.5,2726.8L869.8,2711.7L847.1,2699.3L824.6,2689.5L802.2,2682.3L780.0,2677.5L757.9,2675.3L736.1,2675.6L714.4,2678.2L691.7,2683.6L670.4,2691.1L648.2,2701.5L626.3,2714.4L604.6,2729.8L583.1,2747.5L561.9,2767.6M1318.7,3278.5L1296.6,3222.1L1274.5,3168.1L1252.3,3116.5L1230.1,3067.4L1207.8,3020.8L1185.5,2976.6L1163.3,2934.9L1141.0,2895.7L1118.7,2858.9L1096.5,2824.7L1074.3,2792.9L1050.9,2762.0L1028.8,2735.2L1005.5,2709.6L983.5,2687.9L960.4,2667.6L938.6,2650.8L915.7,2635.7L892.9,2623.1L870.3,2613.2L847.8,2605.8L825.4,2601.0L803.2,2598.7L781.2,2598.8L759.3,2601.3L736.5,2606.6L715.0,2614.0L692.7,2624.2L670.5,2637.0L648.6,2652.2L626.9,2669.7L605.4,2689.7M1365.3,3211.5L1343.2,3155.1L1321.1,3101.1L1299.0,3049.5L1276.7,3000.4L1254.5,2953.7L1232.2,2909.5L1209.9,2867.7L1187.6,2828.4L1165.3,2791.6L1143.1,2757.3L1120.8,2725.4L1097.4,2694.5L1074.0,2666.2L1051.8,2642.0L1029.8,2620.2L1006.6,2599.7L984.7,2582.9L961.7,2567.6L938.8,2555.0L916.1,2544.9L893.4,2537.4L870.9,2532.4L848.6,2530.0L826.4,2529.9L804.4,2532.3L781.4,2537.4L759.8,2544.7L737.2,2554.8L714.9,2567.3L692.7,2582.4L670.9,2599.7L649.2,2619.5M1411.6,3152.4L1389.6,3096.0L1367.6,3042.0L1345.4,2990.4L1323.2,2941.3L1301.0,2894.6L1278.7,2850.4L1256.4,2808.6L1234.1,2769.3L1211.8,2732.5L1189.5,2698.1L1167.2,2666.2L1143.7,2635.2L1121.5,2608.3L1098.1,2582.5L1076.0,2560.6L1052.7,2540.1L1030.8,2523.1L1007.7,2507.8L984.7,2495.0L961.8,2484.8L939.1,2477.2L916.5,2472.1L894.0,2469.5L871.7,2469.3L849.6,2471.5L826.4,2476.4L804.7,2483.5L781.9,2493.4L759.4,2505.7L737.1,2520.5L715.0,2537.7L693.2,2557.2M1457.7,3101.2L1435.8,3044.9L1413.7,2991.0L1391.6,2939.5L1369.5,2890.4L1347.2,2843.7L1325.0,2799.5L1302.7,2757.8L1280.4,2718.5L1258.1,2681.6L1235.8,2647.2L1213.5,2615.3L1189.9,2584.2L1167.7,2557.3L1144.2,2531.5L1122.1,2509.5L1098.8,2488.9L1076.7,2471.8L1053.6,2456.3L1030.5,2443.5L1007.6,2433.1L984.7,2425.4L962.0,2420.1L939.4,2417.3L917.0,2417.0L894.7,2419.0L871.5,2423.7L849.5,2430.6L826.6,2440.2L804.0,2452.4L781.5,2466.9L759.2,2483.9L737.2,2503.1M1503.4,3058.3L1481.5,3002.1L1459.5,2948.2L1437.5,2896.8L1415.3,2847.8L1393.1,2801.2L1370.9,2757.1L1348.7,2715.3L1326.4,2676.1L1304.1,2639.3L1281.7,2604.9L1259.4,2572.9L1235.9,2541.8L1213.6,2514.8L1190.1,2489.0L1168.0,2466.9L1144.6,2446.2L1122.5,2429.1L1099.3,2413.5L1076.2,2400.5L1053.1,2390.0L1030.2,2382.1L1007.4,2376.7L984.7,2373.7L962.2,2373.1L939.8,2375.0L916.4,2379.5L894.4,2386.1L871.3,2395.5L848.5,2407.4L825.9,2421.7L803.5,2438.3L781.3,2457.3M1548.6,3023.6L1528.0,2970.6L1507.3,2919.7L1486.5,2870.9L1464.5,2821.6L1443.6,2777.3L1421.4,2732.7L1400.4,2692.8L1378.2,2652.9L1355.9,2615.4L1334.8,2582.3L1312.5,2549.5L1290.2,2519.2L1269.1,2492.8L1246.9,2467.1L1224.6,2443.8L1202.5,2422.9L1180.3,2404.3L1158.2,2388.1L1136.2,2374.2L1113.1,2362.0L1091.2,2352.8L1068.3,2345.5L1046.6,2340.8L1023.9,2338.3L1002.5,2338.1L980.1,2340.2L957.8,2344.7L935.6,2351.4L913.7,2360.4L891.8,2371.6L870.2,2384.9L847.7,2401.3M1593.3,2997.3L1554.6,2899.6L1533.9,2850.8L1514.3,2806.8L1493.5,2762.0L1473.9,2721.9L1454.2,2683.7L1433.2,2645.1L1413.4,2610.8L1392.4,2576.5L1371.4,2544.2L1350.3,2514.1L1330.5,2487.8L1309.5,2461.8L1288.4,2438.0L1267.4,2416.3L1246.5,2396.6L1225.5,2379.1L1204.7,2363.6L1183.8,2350.2L1163.1,2338.8L1142.4,2329.4L1121.8,2322.1L1100.0,2316.4L1079.6,2313.0L1058.1,2311.6L1036.7,2312.3L1015.4,2315.0L994.2,2319.8L973.2,2326.7L952.3,2335.5L931.6,2346.3M1637.4,2979.5L1601.3,2888.1L1563.6,2800.5L1525.7,2720.0L1506.1,2681.2L1487.7,2646.5L1468.0,2611.3L1449.5,2580.1L1430.9,2550.5L1411.2,2520.7L1391.4,2492.9L1372.8,2468.4L1353.0,2444.2L1333.3,2421.8L1313.5,2401.3L1293.8,2382.6L1274.1,2365.7L1254.4,2350.7L1234.8,2337.5L1215.2,2326.0L1195.7,2316.3L1176.2,2308.4L1156.8,2302.3L1136.3,2297.6L1117.0,2294.9L1096.7,2294.0L1077.6,2294.8L1057.4,2297.4L1037.4,2301.9L1017.5,2308.1M1680.8,2970.2L1647.3,2885.2L1612.2,2803.0L1578.2,2729.4L1542.7,2659.3L1507.1,2595.2L1489.9,2566.5L1471.4,2537.3L1454.1,2511.5L1435.6,2485.5L1417.1,2461.1L1399.8,2439.8L1382.5,2419.9L1364.0,2400.2L1345.5,2382.0L1327.0,2365.5L1308.6,2350.5L1290.1,2337.2L1271.8,2325.3L1253.4,2315.1L1235.1,2306.4L1216.9,2299.2L1198.7,2293.5L1179.3,2289.1L1161.2,2286.5L1143.2,2285.3L1125.3,2285.6L1106.3,2287.5M1723.5,2969.5L1692.5,2890.8L1661.3,2816.9L1629.9,2747.8L1597.0,2681.2L1565.2,2622.1L1532.1,2565.8L1498.9,2514.8L1465.7,2469.0L1448.4,2447.4L1432.4,2428.5L1416.4,2410.8L1399.1,2393.1L1383.1,2377.9L1365.9,2362.9L1348.7,2349.2L1331.5,2336.9L1314.4,2325.9L1297.3,2316.3L1280.2,2308.0L1263.1,2301.0L1246.1,2295.3L1229.2,2291.0L1212.3,2287.8L1195.4,2286.0M1765.5,2977.2L1737.0,2904.9L1708.3,2836.6L1679.5,2772.4L1650.5,2712.3L1621.3,2656.2L1590.8,2602.2L1561.5,2554.6L1530.8,2509.3L1501.3,2470.1L1470.6,2433.5L1439.8,2401.2L1409.1,2373.4L1393.2,2360.6L1378.5,2349.8L1362.5,2339.2L1347.9,2330.5L1333.2,2322.7L1317.4,2315.4L1301.6,2309.1L1285.8,2304.0M1806.5,2993.5L1780.6,2927.6L1755.7,2867.7L1729.4,2808.3L1703.0,2752.3L1676.5,2699.7L1649.8,2650.6L1623.0,2604.8L1596.2,2562.4L1569.3,2523.4L1542.4,2487.8L1515.4,2455.6L1487.2,2425.5L1460.2,2400.1L1432.1,2377.1L1405.2,2358.4L1377.1,2342.3" fill="none" stroke="#140a00" stroke-width="2.3" stroke-linejoin="round" stroke-linecap="round"/>
<g stroke="#2a2a2a" stroke-width="2.6" fill="none" stroke-linecap="round">
<line x1="258.2" y1="3305.7" x2="213.3" y2="2370.6" />
<line x1="258.2" y1="3305.7" x2="944.5" y2="3818.4" />
<line x1="944.5" y1="3818.4" x2="1786.4" y2="3385.9" />
<line x1="249.6" y1="3127.3" x2="265.5" y2="3120.2" />
<line x1="240.9" y1="2944.7" x2="256.9" y2="2937.8" />
<line x1="231.9" y1="2757.9" x2="248.2" y2="2751.1" />
<line x1="222.7" y1="2566.5" x2="239.2" y2="2559.9" />
<line x1="213.3" y1="2370.6" x2="230.0" y2="2364.0" />
<line x1="799.1" y1="3709.8" x2="810.7" y2="3704.0" />
<line x1="658.0" y1="3604.4" x2="669.5" y2="3598.8" />
<line x1="520.9" y1="3502.0" x2="532.4" y2="3496.5" />
<line x1="387.7" y1="3402.4" x2="399.1" y2="3397.1" />
<line x1="1033.3" y1="3772.8" x2="1023.7" y2="3765.7" />
<line x1="1121.1" y1="3727.7" x2="1111.5" y2="3720.7" />
<line x1="1207.9" y1="3683.1" x2="1198.2" y2="3676.2" />
<line x1="1293.5" y1="3639.1" x2="1283.8" y2="3632.3" />
<line x1="1378.2" y1="3595.7" x2="1368.5" y2="3588.9" />
<line x1="1461.8" y1="3552.7" x2="1452.0" y2="3546.1" />
<line x1="1544.4" y1="3510.3" x2="1534.6" y2="3503.7" />
<line x1="1626.0" y1="3468.3" x2="1616.3" y2="3461.8" />
<line x1="1706.7" y1="3426.9" x2="1696.9" y2="3420.5" />
</g>
<text transform="matrix(0.9354 -0.3535 0.0523 0.9986 145.8 2410.0)" font-size="42" font-weight="normal" text-anchor="middle" fill="#151515">1.0</text>
<text transform="matrix(0.9354 -0.3535 0.0523 0.9986 156.2 2612.1)" font-size="42" font-weight="normal" text-anchor="middle" fill="#151515">0.8</text>
<text transform="matrix(0.9354 -0.3535 0.0523 0.9986 164.6 2799.6)" font-size="42" font-weight="normal" text-anchor="middle" fill="#151515">0.6</text>
<text transform="matrix(0.9354 -0.3535 0.0523 0.9986 175.0 2993.3)" font-size="42" font-weight="normal" text-anchor="middle" fill="#151515">0.4</text>
<text transform="matrix(0.9354 -0.3535 0.0523 0.9986 185.4 3180.8)" font-size="42" font-weight="normal" text-anchor="middle" fill="#151515">0.2</text>
<text transform="matrix(0.7225 0.5366 -0.9631 0.4886 185.2 3353.1)" font-size="44" font-weight="normal" text-anchor="middle" fill="#151515">1.0</text>
<text transform="matrix(0.7225 0.5366 -0.9631 0.4886 310.9 3451.3)" font-size="44" font-weight="normal" text-anchor="middle" fill="#151515">0.8</text>
<text transform="matrix(0.7225 0.5366 -0.9631 0.4886 444.5 3541.6)" font-size="44" font-weight="normal" text-anchor="middle" fill="#151515">0.6</text>
<text transform="matrix(0.7225 0.5366 -0.9631 0.4886 580.4 3647.7)" font-size="44" font-weight="normal" text-anchor="middle" fill="#151515">0.4</text>
<text transform="matrix(0.7225 0.5366 -0.9631 0.4886 719.5 3753.8)" font-size="44" font-weight="normal" text-anchor="middle" fill="#151515">0.2</text>
<text transform="matrix(0.7225 0.5366 -0.9631 0.4886 864.8 3859.9)" font-size="44" font-weight="normal" text-anchor="middle" fill="#151515">0.0</text>
<text transform="matrix(0.7225 0.5366 -0.9631 0.4886 987.8 3874.5)" font-size="44" font-weight="normal" text-anchor="middle" fill="#151515">0.10</text>
<text transform="matrix(0.7225 0.5366 -0.9631 0.4886 1078.3 3833.7)" font-size="44" font-weight="normal" text-anchor="middle" fill="#151515">0.12</text>
<text transform="matrix(0.7225 0.5366 -0.9631 0.4886 1166.7 3784.0)" font-size="44" font-weight="normal" text-anchor="middle" fill="#151515">0.14</text>
<text transform="matrix(0.7225 0.5366 -0.9631 0.4886 1251.7 3740.5)" font-size="44" font-weight="normal" text-anchor="middle" fill="#151515">0.16</text>
<text transform="matrix(0.7225 0.5366 -0.9631 0.4886 1336.8 3695.6)" font-size="44" font-weight="normal" text-anchor="middle" fill="#151515">0.18</text>
<text transform="matrix(0.7225 0.5366 -0.9631 0.4886 1423.2 3650.0)" font-size="44" font-weight="normal" text-anchor="middle" fill="#151515">0.20</text>
<text transform="matrix(0.7225 0.5366 -0.9631 0.4886 1508.2 3607.2)" font-size="44" font-weight="normal" text-anchor="middle" fill="#151515">0.22</text>
<text transform="matrix(0.7225 0.5366 -0.9631 0.4886 1591.9 3565.0)" font-size="44" font-weight="normal" text-anchor="middle" fill="#151515">0.24</text>
<text transform="matrix(0.7225 0.5366 -0.9631 0.4886 1673.5 3520.8)" font-size="44" font-weight="normal" text-anchor="middle" fill="#151515">0.26</text>
<text transform="matrix(0.7225 0.5366 -0.9631 0.4886 1753.1 3479.9)" font-size="44" font-weight="normal" text-anchor="middle" fill="#151515">0.28</text>
<text transform="matrix(0.7225 0.5366 -0.9631 0.4886 1833.4 3439.1)" font-size="44" font-weight="normal" text-anchor="middle" fill="#151515">0.30</text>
<text transform="matrix(0.0000 1.0350 -0.9500 -0.0000 46.5 2923.0)" font-size="50" font-weight="bold" text-anchor="middle" fill="#151515">Desirability</text>
<text transform="matrix(0.7627 0.5664 -0.9364 0.4751 408.2 3640.4)" font-size="48" font-weight="bold" text-anchor="middle" fill="#151515">% Enzyme</text>
<text transform="matrix(0.8918 -0.4524 0.8028 0.5962 1553.4 3719.0)" font-size="50" font-weight="bold" text-anchor="middle" fill="#151515">Petals/Solvent</text>
<rect x="1987.9" y="2112.8" width="93.0" height="55.0" fill="#C00000" stroke="#2a1a10" stroke-width="3"/>
<text x="2108.4" y="2162.3" font-size="64" fill="#101018">&gt; 0.8</text>
<rect x="1987.9" y="2184.7" width="93.0" height="55.0" fill="#D80000" stroke="#2a1a10" stroke-width="3"/>
<text x="2108.4" y="2234.2" font-size="64" fill="#101018">&lt; 0.8</text>
<rect x="1987.9" y="2256.6" width="93.0" height="55.0" fill="#F81400" stroke="#2a1a10" stroke-width="3"/>
<text x="2108.4" y="2306.1" font-size="64" fill="#101018">&lt; 0.6</text>
<rect x="1987.9" y="2328.5" width="93.0" height="55.0" fill="#FFA000" stroke="#2a1a10" stroke-width="3"/>
<text x="2108.4" y="2378.0" font-size="64" fill="#101018">&lt; 0.4</text>
<rect x="1987.9" y="2400.4" width="93.0" height="55.0" fill="#FFE800" stroke="#2a1a10" stroke-width="3"/>
<text x="2108.4" y="2449.9" font-size="64" fill="#101018">&lt; 0.2</text>
<text x="52.5" y="3889.6" font-size="54" font-weight="bold" fill="#000">B</text>
</svg>
</body></html>
